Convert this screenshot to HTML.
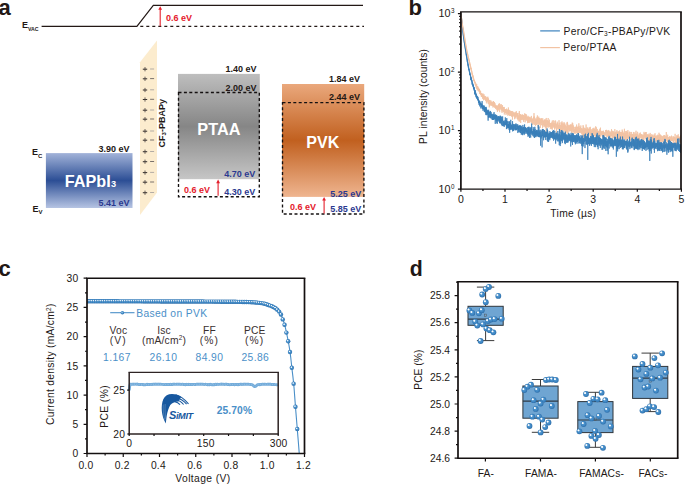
<!DOCTYPE html>
<html><head><meta charset="utf-8"><style>
html,body{margin:0;padding:0;background:#fff;}
svg{display:block;font-family:"Liberation Sans",sans-serif;}
</style></head><body>
<svg width="685" height="484" viewBox="0 0 685 484">
<defs>
<linearGradient id="gBlue" x1="0" y1="0" x2="0" y2="1">
<stop offset="0" stop-color="#a2b3d9"/><stop offset="0.5" stop-color="#2c4e95"/><stop offset="1" stop-color="#b6c4e3"/>
</linearGradient>
<linearGradient id="gGray" x1="0" y1="0" x2="0" y2="1">
<stop offset="0" stop-color="#bebebe"/><stop offset="0.5" stop-color="#868686"/><stop offset="1" stop-color="#c6c6c6"/>
</linearGradient>
<linearGradient id="gOrange" x1="0" y1="0" x2="0" y2="1">
<stop offset="0" stop-color="#eaa87c"/><stop offset="0.5" stop-color="#c1601f"/><stop offset="1" stop-color="#efb590"/>
</linearGradient>
<radialGradient id="gBody" cx="0.45" cy="0.45" r="0.6">
<stop offset="0" stop-color="#5a9dd3"/><stop offset="0.6" stop-color="#3d86c3"/><stop offset="1" stop-color="#2a68a3"/>
</radialGradient>
<radialGradient id="gSpec">
<stop offset="0" stop-color="#ffffff" stop-opacity="1"/><stop offset="0.45" stop-color="#ffffff" stop-opacity="0.85"/><stop offset="1" stop-color="#ffffff" stop-opacity="0"/>
</radialGradient>
<clipPath id="clipB"><rect x="460.9" y="11.9" width="220.1" height="177.2"/></clipPath>
<clipPath id="clipC"><rect x="87" y="278.2" width="217.5" height="175.3"/></clipPath>
</defs>

<text x="-1.5" y="15.3" font-size="22" text-anchor="start" font-weight="bold" fill="#231815" >a</text>
<text x="22" y="28.2" font-size="9" font-weight="bold" fill="#231815">E<tspan font-size="5.2" dy="2.9" letter-spacing="-0.1">VAC</tspan></text>
<path d="M41.6 26.3 H136.9 L153.3 5.4 H363" fill="none" stroke="#231815" stroke-width="1.2"/>
<path d="M140.3 26.3 H364" fill="none" stroke="#231815" stroke-width="1.2" stroke-dasharray="3 3"/>
<path d="M160.2 26.3 V8.7" stroke="#e4202c" stroke-width="1.1" fill="none"/>
<path d="M158.3 9.8 L160.2 6.2 L162.1 9.8 Z" fill="#e4202c"/>
<text x="166" y="21" font-size="9" text-anchor="start" font-weight="bold" fill="#e4202c" >0.6 eV</text>
<polygon points="140,62.3 157,40.4 157,192.5 140,215" fill="#fcecce"/>
<path d="M142.8 69.2 h4.4" stroke="#3a3330" stroke-width="1.05"/><path d="M145 67.1 v4.2" stroke="#4a4340" stroke-width="0.85"/>
<path d="M150.1 69 h4" stroke="#b3aca4" stroke-width="1"/>
<path d="M142.8 78.8 h4.4" stroke="#3a3330" stroke-width="1.05"/><path d="M145 76.7 v4.2" stroke="#4a4340" stroke-width="0.85"/>
<path d="M150.1 78.6 h4" stroke="#7a726c" stroke-width="1"/>
<path d="M142.8 90 h4.4" stroke="#3a3330" stroke-width="1.05"/><path d="M145 87.9 v4.2" stroke="#4a4340" stroke-width="0.85"/>
<path d="M150.1 89.8 h4" stroke="#b3aca4" stroke-width="1"/>
<path d="M142.8 99.5 h4.4" stroke="#3a3330" stroke-width="1.05"/><path d="M145 97.4 v4.2" stroke="#4a4340" stroke-width="0.85"/>
<path d="M150.1 99.3 h4" stroke="#7a726c" stroke-width="1"/>
<path d="M142.8 110.2 h4.4" stroke="#3a3330" stroke-width="1.05"/><path d="M145 108.1 v4.2" stroke="#4a4340" stroke-width="0.85"/>
<path d="M150.1 110 h4" stroke="#b3aca4" stroke-width="1"/>
<path d="M142.8 119.2 h4.4" stroke="#3a3330" stroke-width="1.05"/><path d="M145 117.1 v4.2" stroke="#4a4340" stroke-width="0.85"/>
<path d="M150.1 119 h4" stroke="#7a726c" stroke-width="1"/>
<path d="M142.8 131.2 h4.4" stroke="#3a3330" stroke-width="1.05"/><path d="M145 129.1 v4.2" stroke="#4a4340" stroke-width="0.85"/>
<path d="M150.1 131 h4" stroke="#b3aca4" stroke-width="1"/>
<path d="M142.8 140.2 h4.4" stroke="#3a3330" stroke-width="1.05"/><path d="M145 138.1 v4.2" stroke="#4a4340" stroke-width="0.85"/>
<path d="M150.1 140 h4" stroke="#7a726c" stroke-width="1"/>
<path d="M142.8 151.7 h4.4" stroke="#3a3330" stroke-width="1.05"/><path d="M145 149.6 v4.2" stroke="#4a4340" stroke-width="0.85"/>
<path d="M150.1 151.5 h4" stroke="#b3aca4" stroke-width="1"/>
<path d="M142.8 161.7 h4.4" stroke="#3a3330" stroke-width="1.05"/><path d="M145 159.6 v4.2" stroke="#4a4340" stroke-width="0.85"/>
<path d="M150.1 161.5 h4" stroke="#7a726c" stroke-width="1"/>
<path d="M142.8 172.6 h4.4" stroke="#3a3330" stroke-width="1.05"/><path d="M145 170.5 v4.2" stroke="#4a4340" stroke-width="0.85"/>
<path d="M150.1 172.4 h4" stroke="#b3aca4" stroke-width="1"/>
<path d="M142.8 182.2 h4.4" stroke="#3a3330" stroke-width="1.05"/><path d="M145 180.1 v4.2" stroke="#4a4340" stroke-width="0.85"/>
<path d="M150.1 182 h4" stroke="#7a726c" stroke-width="1"/>
<path d="M142.8 192.7 h4.4" stroke="#3a3330" stroke-width="1.05"/><path d="M145 190.6 v4.2" stroke="#4a4340" stroke-width="0.85"/>
<path d="M150.1 192.5 h4" stroke="#b3aca4" stroke-width="1"/>
<text transform="translate(164.9 147.4) rotate(-90)" font-size="9" font-weight="bold" fill="#231815">CF<tspan font-size="6" dy="1.5">3</tspan><tspan dy="-1.5">-PBAPy</tspan></text>
<rect x="45.9" y="153.1" width="86.6" height="54.9" fill="url(#gBlue)"/>
<text x="64.8" y="187.3" font-size="16.2" font-weight="bold" fill="#fff">FAPbI<tspan font-size="9.2" dx="0.4">3</tspan></text>
<text x="129.5" y="151.9" font-size="9" text-anchor="end" font-weight="bold" fill="#231815" >3.90 eV</text>
<text x="129.5" y="206.2" font-size="9" text-anchor="end" font-weight="bold" fill="#2b3990" >5.41 eV</text>
<text x="31.9" y="155.4" font-size="9" font-weight="bold" fill="#231815">E<tspan font-size="6" dy="2.6">C</tspan></text>
<text x="32.4" y="211.8" font-size="9" font-weight="bold" fill="#231815">E<tspan font-size="6" dy="2.6">V</tspan></text>
<rect x="178" y="73.9" width="81.8" height="105.3" fill="url(#gGray)"/>
<rect x="178.5" y="92.5" width="80.8" height="104.2" fill="none" stroke="#141010" stroke-width="1.35" stroke-dasharray="3 2.4"/>
<text x="256.6" y="72" font-size="9" text-anchor="end" font-weight="bold" fill="#231815" >1.40 eV</text>
<text x="256.6" y="90.7" font-size="9" text-anchor="end" font-weight="bold" fill="#231815" >2.00 eV</text>
<text x="218.9" y="134.8" font-size="16.3" text-anchor="middle" font-weight="bold" fill="#fff" >PTAA</text>
<text x="255.3" y="177.1" font-size="9" text-anchor="end" font-weight="bold" fill="#2b3990" >4.70 eV</text>
<text x="255.3" y="195.3" font-size="9" text-anchor="end" font-weight="bold" fill="#2b3990" >4.30 eV</text>
<text x="184" y="192.6" font-size="9" text-anchor="start" font-weight="bold" fill="#e4202c" >0.6 eV</text>
<path d="M218.1 195.8 V182.1" stroke="#e4202c" stroke-width="1.1" fill="none"/>
<path d="M216.2 183.2 L218.1 179.6 L220 183.2 Z" fill="#e4202c"/>
<rect x="282" y="84" width="82.2" height="112.9" fill="url(#gOrange)"/>
<rect x="282.5" y="102.6" width="81.4" height="111.4" fill="none" stroke="#141010" stroke-width="1.35" stroke-dasharray="3 2.4"/>
<text x="360" y="82.2" font-size="9" text-anchor="end" font-weight="bold" fill="#231815" >1.84 eV</text>
<text x="360" y="100" font-size="9" text-anchor="end" font-weight="bold" fill="#231815" >2.44 eV</text>
<text x="322.8" y="147.5" font-size="16" text-anchor="middle" font-weight="bold" fill="#fff" >PVK</text>
<text x="361.2" y="196.9" font-size="9" text-anchor="end" font-weight="bold" fill="#2b3990" >5.25 eV</text>
<text x="361.2" y="212.4" font-size="9" text-anchor="end" font-weight="bold" fill="#2b3990" >5.85 eV</text>
<text x="290" y="210.3" font-size="9" text-anchor="start" font-weight="bold" fill="#e4202c" >0.6 eV</text>
<path d="M324.1 213.5 V199.5" stroke="#e4202c" stroke-width="1.1" fill="none"/>
<path d="M322.2 200.6 L324.1 197 L326 200.6 Z" fill="#e4202c"/>
<text x="408.6" y="15.2" font-size="22" text-anchor="start" font-weight="bold" fill="#231815" >b</text>
<g clip-path="url(#clipB)">
<polyline points="460.9,13.6 460.98,14.29 461.07,14.98 461.15,15.66 461.24,16.34 461.32,17.01 461.41,17.66 461.49,18.31 461.58,18.95 461.66,19.59 461.75,20.23 461.83,20.85 461.92,21.43 462,22.05 462.09,22.64 462.17,23.25 462.26,23.82 462.34,24.31 462.43,24.86 462.51,25.39 462.6,25.95 462.68,26.47 462.77,26.98 462.85,27.41 462.94,27.99 463.02,28.54 463.1,28.95 463.19,29.45 463.27,29.85 463.36,30.44 463.44,30.85 463.53,31.45 463.61,31.74 463.7,32.53 463.78,32.9 463.87,33.34 463.95,33.86 464.04,34.41 464.12,34.92 464.21,35.51 464.29,36.29 464.38,36.48 464.46,37.02 464.55,37.54 464.63,38.1 464.72,38.62 464.8,39.22 464.89,39.36 464.97,40.31 465.06,40.65 465.14,41.39 465.23,41.81 465.31,42.46 465.39,42.68 465.48,43.11 465.56,44.17 465.65,44.53 465.73,44.96 465.82,45.43 465.9,45.93 465.99,46.91 466.07,46.51 466.16,47.13 466.24,47.94 466.33,48.09 466.41,48.68 466.5,48.87 466.58,50.24 466.67,50.23 466.75,50.48 466.84,50.7 466.92,51.33 467.01,51.61 467.09,52.09 467.18,52.25 467.26,53.01 467.35,53.37 467.43,53.25 467.51,53.94 467.6,54.21 467.68,54.54 467.77,55.6 467.85,55.34 467.94,56.24 468.02,56.05 468.11,56.41 468.19,57.14 468.28,57.05 468.36,57.7 468.45,57.42 468.53,58.63 468.62,58.03 468.7,59.35 468.79,59.2 468.87,60.26 468.96,60.31 469.04,60.3 469.13,61.02 469.21,60.55 469.3,61.86 469.38,62.73 469.47,62.31 469.55,62.63 469.64,63.13 469.72,62.72 469.8,63.11 469.89,64.21 469.97,64.02 470.06,65.07 470.14,64.86 470.23,64.86 470.31,65.47 470.4,67.1 470.48,65.78 470.57,66.77 470.65,67.21 470.74,67.13 470.82,69.02 470.91,67.99 470.99,68.51 471.08,67.97 471.16,69.5 471.25,69.89 471.33,69.64 471.42,70.87 471.5,71.07 471.59,70.65 471.67,71.02 471.76,71.57 471.84,72.07 471.92,72.49 472.01,73.53 472.09,73.84 472.18,73.42 472.26,74.84 472.35,73.9 472.43,75.65 472.52,75.26 472.6,76.56 472.69,75.1 472.77,75.09 472.86,77.05 472.94,75.77 473.03,76.09 473.11,77 473.2,78.57 473.28,78.25 473.37,77.39 473.45,77.45 473.54,77.48 473.62,78.49 473.71,79.55 473.79,80.15 473.88,81.02 473.96,79.92 474.05,80.43 474.13,80.55 474.21,81.07 474.3,80.28 474.38,80.9 474.47,81.37 474.55,81.1 474.64,81.83 474.72,82.91 474.81,82.8 474.89,81.77 474.98,81.82 475.06,83.07 475.15,83.66 475.23,84.73 475.32,84.82 475.4,83.6 475.49,82.67 475.57,83.25 475.66,85.72 475.74,83.98 475.83,84.3 475.91,83.67 476,85.95 476.08,87.53 476.17,87.11 476.25,84.61 476.33,85.76 476.42,85.77 476.5,85.71 476.59,85.48 476.67,84.52 476.76,84.14 476.84,88.84 476.93,86.63 477.01,88.92 477.1,87.17 477.18,87.83 477.27,90.51 477.35,87.7 477.44,86.24 477.52,87.67 477.61,89.03 477.69,87.81 477.78,86.98 477.86,88.89 477.95,86.59 478.03,89.18 478.12,89.77 478.2,89.71 478.29,88.45 478.37,88.59 478.46,89.8 478.54,89.58 478.62,88.51 478.71,90.89 478.79,90.59 478.88,88.5 478.96,88.92 479.05,89.64 479.13,91.42 479.22,91.66 479.3,89.28 479.39,91.58 479.47,89.21 479.56,92.27 479.64,91.89 479.73,92.29 479.81,94.07 479.9,93.34 479.98,93.84 480.07,92.78 480.15,93.11 480.24,93.76 480.32,90.69 480.41,93.84 480.49,94.3 480.58,90.93 480.66,92.21 480.75,93.43 480.83,94.89 480.91,93.25 481,94 481.08,93.63 481.17,95.33 481.25,96.56 481.34,94.81 481.42,93.32 481.51,93.57 481.59,94.02 481.68,97.01 481.76,96.87 481.85,93.52 481.93,95.62 482.02,95.47 482.1,97.07 482.19,95.55 482.27,95.23 482.36,95.78 482.44,94.06 482.53,96.08 482.61,98.54 482.7,98.96 482.78,94.76 482.87,97.36 482.95,93.43 483.03,96.14 483.12,97.97 483.2,96.61 483.29,94.67 483.37,96.11 483.46,100.22 483.54,98.29 483.63,96.22 483.71,98.98 483.8,96.89 483.88,96.41 483.97,98.52 484.05,94.37 484.14,95.94 484.22,99.01 484.31,97.53 484.39,98.95 484.48,96.51 484.56,98.95 484.65,97.39 484.73,97.53 484.82,96.92 484.9,96.41 484.99,100.06 485.07,97.05 485.15,98.13 485.24,99.87 485.32,98.64 485.41,99.91 485.49,100.71 485.58,97.88 485.66,95.99 485.75,98.37 485.83,97.8 485.92,98.71 486,98.65 486.09,99.68 486.17,100.68 486.26,98.7 486.34,102.44 486.43,98.29 486.51,99.71 486.6,98.42 486.68,97.73 486.77,97.29 486.85,98.98 486.94,103.52 487.02,99.18 487.11,100.36 487.19,97.23 487.28,98.22 487.36,98.97 487.44,100.01 487.53,100.48 487.61,100.05 487.7,100.54 487.78,99.42 487.87,96.69 487.95,101.38 488.04,101.73 488.12,98.99 488.21,101.99 488.29,98.2 488.38,102.53 488.46,99.27 488.55,101.63 488.63,104.16 488.72,100.24 488.8,102.39 488.89,101.4 488.97,103.64 489.06,102.29 489.14,104.13 489.23,102.95 489.31,107.37 489.4,101.58 489.48,101.22 489.56,101.58 489.65,99.94 489.73,104.68 489.82,102.62 489.9,103.98 489.99,105.87 490.07,100.23 490.16,102.19 490.24,102.34 490.33,101.93 490.41,102.6 490.5,101.76 490.58,102.92 490.67,104.65 490.75,103.78 490.84,102.69 490.92,105.22 491.01,100.59 491.09,104.03 491.18,103.64 491.26,101.89 491.35,102.58 491.43,105.35 491.52,105.21 491.6,104.97 491.69,101.9 491.77,102.67 491.85,105.77 491.94,105.71 492.02,104.42 492.11,105.11 492.19,102.51 492.28,104.29 492.36,105.92 492.45,103.9 492.53,102.79 492.62,104.98 492.7,104.11 492.79,102.02 492.87,105.63 492.96,107.5 493.04,107.11 493.13,101.24 493.21,105.87 493.3,104.51 493.38,106.51 493.47,105.89 493.55,101.14 493.64,105.21 493.72,106.4 493.81,102.38 493.89,104.42 493.97,106.72 494.06,102.92 494.14,104.13 494.23,104.45 494.31,103.73 494.4,103.06 494.48,102.04 494.57,105.95 494.65,106.27 494.74,103.86 494.82,107.76 494.91,103.15 494.99,103.42 495.08,107.81 495.16,105.76 495.25,106.12 495.33,106.94 495.42,106.22 495.5,105.8 495.59,107.97 495.67,105.68 495.76,109.06 495.84,105.59 495.93,107 496.01,106.53 496.1,105.79 496.18,108.09 496.26,108.63 496.35,105.47 496.43,106.09 496.52,107.8 496.6,106.14 496.69,108.67 496.77,108.98 496.86,109.06 496.94,109.69 497.03,108.87 497.11,110.32 497.2,108.75 497.28,105.94 497.37,109.22 497.45,112.01 497.54,108.28 497.62,105.67 497.71,106.27 497.79,107.54 497.88,110.2 497.96,105.6 498.05,107.75 498.13,107.75 498.22,108.91 498.3,107.45 498.38,105.54 498.47,106.1 498.55,104.2 498.64,110.43 498.72,106.82 498.81,108.36 498.89,108.43 498.98,106.66 499.06,108.68 499.15,106.43 499.23,108.07 499.32,103.22 499.4,107.93 499.49,107.52 499.57,106.94 499.66,112.18 499.74,103.96 499.83,108.6 499.91,106.43 500,107.24 500.08,108.14 500.17,107.65 500.25,109.22 500.34,109.24 500.42,109.48 500.51,108.23 500.59,107.77 500.67,104.56 500.76,107.53 500.84,107.55 500.93,107.88 501.01,108.34 501.1,108.33 501.18,108.5 501.27,109.51 501.35,104.25 501.44,109.33 501.52,107.34 501.61,109.95 501.69,107.75 501.78,109.2 501.86,111.26 501.95,110.34 502.03,112.84 502.12,110.32 502.2,106.48 502.29,111.1 502.37,109.15 502.46,110.68 502.54,105.15 502.63,108.24 502.71,109.68 502.79,109.75 502.88,107.27 502.96,110.18 503.05,108.21 503.13,108.89 503.22,111.44 503.3,111.14 503.39,110.95 503.47,108.75 503.56,107.04 503.64,111.77 503.73,109.01 503.81,110.67 503.9,110.69 503.98,112.18 504.07,108.65 504.15,111.04 504.24,106.93 504.32,114.47 504.41,111.26 504.49,111.26 504.58,110.73 504.66,111.51 504.75,109.21 504.83,111.17 504.92,109.57 505,112.33 505.08,112.08 505.17,109.96 505.25,113.01 505.34,109.32 505.42,110.48 505.51,110.28 505.59,110.86 505.68,110.8 505.76,109.19 505.85,111.04 505.93,111.77 506.02,114.96 506.1,114.16 506.19,110.62 506.27,113.16 506.36,110.26 506.44,110.48 506.53,108.61 506.61,110.74 506.7,111.28 506.78,112.91 506.87,113.88 506.95,112.12 507.04,112.78 507.12,111.73 507.2,110.37 507.29,111.13 507.37,111.93 507.46,112.1 507.54,109.52 507.63,114.41 507.71,115.64 507.8,114.26 507.88,112.94 507.97,110.36 508.05,113.36 508.14,112.27 508.22,110.47 508.31,113.71 508.39,107.48 508.48,112.19 508.56,111.2 508.65,115.26 508.73,113.27 508.82,109.7 508.9,114.8 508.99,111.03 509.07,112.18 509.16,112.05 509.24,113.92 509.33,110 509.41,110.23 509.49,112.88 509.58,112.64 509.66,111.05 509.75,116.03 509.83,114.12 509.92,112.51 510,113.88 510.09,114.93 510.17,115.63 510.26,112.54 510.34,112.83 510.43,110.73 510.51,113.49 510.6,115.42 510.68,114.98 510.77,115.07 510.85,112.25 510.94,115.36 511.02,111.4 511.11,115.45 511.19,112.04 511.28,113.96 511.36,112.54 511.45,111.17 511.53,114.69 511.61,114.39 511.7,116.31 511.78,113.68 511.87,116.54 511.95,113.96 512.04,111.43 512.12,112.36 512.21,111.1 512.29,116.68 512.38,112.61 512.46,119.67 512.55,117.1 512.63,116.78 512.72,114.04 512.8,116.14 512.89,115.15 512.97,115.76 513.06,111.72 513.14,113.88 513.23,112.71 513.31,112.53 513.4,113.88 513.48,114.22 513.57,113.92 513.65,113.15 513.74,116.45 513.82,115.06 513.9,113.17 513.99,112.77 514.07,115.58 514.16,113.71 514.24,115.22 514.33,114.54 514.41,113.7 514.5,115.46 514.58,119.2 514.67,115.09 514.75,116.5 514.84,116.67 514.92,112.28 515.01,115.49 515.09,112.95 515.18,115.35 515.26,117.59 515.35,114.83 515.43,116.77 515.52,115.85 515.6,115.03 515.69,114.66 515.77,112.3 515.86,113.7 515.94,118.1 516.02,118.59 516.11,116.72 516.19,112.66 516.28,111.07 516.36,115.77 516.45,116.82 516.53,116.66 516.62,116.47 516.7,116.42 516.79,112.86 516.87,114.15 516.96,113.2 517.04,116.02 517.13,114.35 517.21,115.95 517.3,113.68 517.38,115.54 517.47,113.22 517.55,113.98 517.64,118.85 517.72,115.15 517.81,119.54 517.89,115.15 517.98,116.98 518.06,115.8 518.15,118.83 518.23,120.59 518.31,116.03 518.4,117.76 518.48,117.04 518.57,118.1 518.65,119.19 518.74,116.72 518.82,115.83 518.91,112.85 518.99,113.89 519.08,117.53 519.16,116.21 519.25,121.69 519.33,111 519.42,118.16 519.5,116.51 519.59,114.81 519.67,117.79 519.76,120.66 519.84,117.57 519.93,118.35 520.01,117.22 520.1,115.88 520.18,116.33 520.27,117.07 520.35,114.1 520.43,115.33 520.52,119.83 520.6,117.18 520.69,122.96 520.77,114.35 520.86,115.86 520.94,117.76 521.03,119.65 521.11,117.57 521.2,117.49 521.28,117.34 521.37,114.98 521.45,119.22 521.54,119.99 521.62,116.79 521.71,115.6 521.79,119.76 521.88,118.8 521.96,116.38 522.05,116.71 522.13,115.52 522.22,119.22 522.3,114.33 522.39,116.71 522.47,117.8 522.56,119.17 522.64,116.69 522.72,115.01 522.81,114.9 522.89,115.57 522.98,119.85 523.06,117.75 523.15,119.69 523.23,120.31 523.32,114.95 523.4,120.11 523.49,115.54 523.57,115.16 523.66,121.95 523.74,120.65 523.83,116.1 523.91,119.14 524,116.92 524.08,119.85 524.17,117.95 524.25,116.32 524.34,118.6 524.42,118.23 524.51,117.23 524.59,117.25 524.68,113.37 524.76,119.01 524.85,116.66 524.93,120.11 525.01,118.97 525.1,115.72 525.18,122.33 525.27,116.86 525.35,117.62 525.44,113.93 525.52,119.22 525.61,116.74 525.69,116.92 525.78,118.56 525.86,116.73 525.95,116.86 526.03,119.29 526.12,116.81 526.2,119.74 526.29,119.83 526.37,119.41 526.46,114.42 526.54,117.94 526.63,119.09 526.71,117.73 526.8,120.21 526.88,117.64 526.97,118.29 527.05,120.9 527.13,117.81 527.22,117.88 527.3,120.63 527.39,117.11 527.47,123.13 527.56,121.12 527.64,119.52 527.73,122.13 527.81,118.33 527.9,115.77 527.98,116.18 528.07,119.02 528.15,118.14 528.24,116.59 528.32,122.56 528.41,119.77 528.49,118.38 528.58,119.23 528.66,122.84 528.75,117.26 528.83,121.02 528.92,118.43 529,118.71 529.09,119.48 529.17,119.67 529.25,116.81 529.34,118.69 529.42,120.28 529.51,122.66 529.59,119.46 529.68,119.71 529.76,117.94 529.85,119.69 529.93,118.12 530.02,121.34 530.1,117.24 530.19,116.91 530.27,119.82 530.36,118.03 530.44,121.51 530.53,118.79 530.61,120.4 530.7,117.88 530.78,119.89 530.87,118.88 530.95,121.49 531.04,120.93 531.12,119.54 531.21,118.81 531.29,123.19 531.38,115.93 531.46,121.38 531.54,122.3 531.63,122.33 531.71,120.26 531.8,119.53 531.88,121.7 531.97,122.27 532.05,119.77 532.14,120.1 532.22,118.9 532.31,118.72 532.39,120.08 532.48,122.76 532.56,119.35 532.65,124.82 532.73,122.48 532.82,119.27 532.9,120.97 532.99,118.61 533.07,124.52 533.16,120.19 533.24,117.8 533.33,119.25 533.41,120.5 533.5,120.17 533.58,116.9 533.66,118.08 533.75,121.19 533.83,123.43 533.92,119.5 534,113.14 534.09,120.51 534.17,116.25 534.26,119.22 534.34,118.76 534.43,116.97 534.51,122.63 534.6,125.02 534.68,124.66 534.77,119.74 534.85,119.78 534.94,120.84 535.02,122.96 535.11,122.43 535.19,124.7 535.28,122.41 535.36,119.18 535.45,121.21 535.53,125.91 535.62,124.56 535.7,121.14 535.79,122.84 535.87,118.63 535.95,117.87 536.04,121.05 536.12,123.31 536.21,122.15 536.29,124.91 536.38,123.43 536.46,119.23 536.55,124.85 536.63,122.37 536.72,120.29 536.8,121.12 536.89,124.14 536.97,122.85 537.06,116.82 537.14,123.52 537.23,122.24 537.31,122.74 537.4,115.42 537.48,121.68 537.57,120.02 537.65,122.35 537.74,122.74 537.82,123.57 537.91,119.43 537.99,121.49 538.07,127.87 538.16,118.56 538.24,122.71 538.33,117.79 538.41,120.9 538.5,122.83 538.58,118.85 538.67,121.98 538.75,116.62 538.84,121.7 538.92,123.98 539.01,119.45 539.09,124.77 539.18,121.71 539.26,122.19 539.35,119.73 539.43,121.07 539.52,123.54 539.6,118.2 539.69,122.7 539.77,121.47 539.86,122.09 539.94,118.21 540.03,120.17 540.11,124.39 540.2,120.75 540.28,124.73 540.36,127.93 540.45,119.41 540.53,120.67 540.62,121.78 540.7,120.92 540.79,119.79 540.87,122.61 540.96,121.23 541.04,118.5 541.13,118.96 541.21,121.34 541.3,121.62 541.38,123.67 541.47,125.15 541.55,118.64 541.64,122.16 541.72,119.23 541.81,118.26 541.89,120.81 541.98,123.03 542.06,121.86 542.15,121.48 542.23,122.4 542.32,119.93 542.4,126 542.49,123.57 542.57,128.29 542.65,121.76 542.74,118.34 542.82,118.57 542.91,121.46 542.99,123.76 543.08,122.9 543.16,121.62 543.25,122.11 543.33,125.05 543.42,122.62 543.5,120.51 543.59,122.38 543.67,123.15 543.76,121.17 543.84,126.76 543.93,123.57 544.01,124.78 544.1,120.73 544.18,125.06 544.27,123.39 544.35,123.68 544.44,119.56 544.52,126.14 544.61,126.42 544.69,124.44 544.77,122 544.86,122.11 544.94,119.6 545.03,126.31 545.11,124.17 545.2,123.86 545.28,124.75 545.37,127.79 545.45,119.55 545.54,127.12 545.62,123.99 545.71,126.39 545.79,123.73 545.88,119.97 545.96,125.65 546.05,124.39 546.13,132.45 546.22,117.94 546.3,124.36 546.39,126.5 546.47,129.74 546.56,126.12 546.64,124.79 546.73,120.16 546.81,122.94 546.89,124.29 546.98,123.82 547.06,121.1 547.15,121.79 547.23,126.83 547.32,121.98 547.4,122.33 547.49,124.91 547.57,120.17 547.66,123.6 547.74,124.72 547.83,121.29 547.91,123.17 548,127.69 548.08,120.12 548.17,118.01 548.25,123.77 548.34,122.38 548.42,120.73 548.51,124.97 548.59,125.97 548.68,123.17 548.76,127.23 548.85,126.23 548.93,126.71 549.02,124.1 549.1,125.72 549.18,122.42 549.27,123.77 549.35,122.92 549.44,127.02 549.52,119.68 549.61,124.03 549.69,123.25 549.78,125.05 549.86,124.25 549.95,125.37 550.03,123.23 550.12,125.73 550.2,126.67 550.29,125.17 550.37,129.02 550.46,123.73 550.54,123.4 550.63,126.22 550.71,125.96 550.8,123 550.88,126.53 550.97,123.79 551.05,123.7 551.14,125.47 551.22,127.34 551.3,124.97 551.39,122.49 551.47,129.16 551.56,123.34 551.64,125.52 551.73,123.22 551.81,127.39 551.9,123.56 551.98,122.98 552.07,124.75 552.15,125.73 552.24,120.7 552.32,124.56 552.41,129.69 552.49,123.45 552.58,124.44 552.66,127.4 552.75,122.62 552.83,127.8 552.92,127.34 553,126.26 553.09,123.34 553.17,120.14 553.26,122.27 553.34,125.47 553.43,123.83 553.51,123.4 553.59,123.42 553.68,126.18 553.76,126.3 553.85,124.74 553.93,127.11 554.02,123.03 554.1,127.41 554.19,120.74 554.27,123.4 554.36,127.69 554.44,125.91 554.53,129.61 554.61,123.6 554.7,126.86 554.78,125.89 554.87,126.25 554.95,129.07 555.04,128.15 555.12,128.03 555.21,128 555.29,127.46 555.38,123.55 555.46,125.68 555.55,120.46 555.63,124.47 555.71,124.99 555.8,127.77 555.88,124.33 555.97,125.45 556.05,127.36 556.14,125.76 556.22,123.51 556.31,125.7 556.39,128.89 556.48,133.06 556.56,124.3 556.65,127.93 556.73,130.03 556.82,128.12 556.9,124.84 556.99,127.42 557.07,126.68 557.16,127.03 557.24,121.66 557.33,126.04 557.41,125.16 557.5,122.77 557.58,127.2 557.67,125.32 557.75,128.74 557.84,125.84 557.92,124.93 558,128.13 558.09,129.24 558.17,125.13 558.26,127.58 558.34,126.13 558.43,127.02 558.51,124.9 558.6,127.91 558.68,124.89 558.77,129.36 558.85,126.3 558.94,128.53 559.02,120.18 559.11,126.98 559.19,128.31 559.28,122.85 559.36,128.56 559.45,129.63 559.53,127.55 559.62,125.14 559.7,127.95 559.79,128.25 559.87,127.59 559.96,127.56 560.04,129.12 560.12,126.04 560.21,127.63 560.29,126.76 560.38,125.02 560.46,126.89 560.55,127.56 560.63,130.13 560.72,125.17 560.8,132.35 560.89,126.79 560.97,122.27 561.06,125.35 561.14,128.52 561.23,127.1 561.31,131.03 561.4,128.37 561.48,128.03 561.57,123.08 561.65,128.68 561.74,122.8 561.82,126.58 561.91,132.41 561.99,121.39 562.08,129.38 562.16,125.22 562.25,127.67 562.33,126.26 562.41,129.64 562.5,129.03 562.58,129.93 562.67,125.45 562.75,126.01 562.84,123.92 562.92,129.39 563.01,122.69 563.09,128.47 563.18,128.04 563.26,130.94 563.35,125.97 563.43,127.57 563.52,124.05 563.6,125.33 563.69,125.94 563.77,126.35 563.86,127.52 563.94,124.23 564.03,128.64 564.11,122.2 564.2,127.19 564.28,130.47 564.37,125.1 564.45,127.31 564.53,123.58 564.62,129.21 564.7,124.98 564.79,125.54 564.87,130.19 564.96,123.62 565.04,138.25 565.13,125.42 565.21,127.91 565.3,130.23 565.38,136.09 565.47,133.63 565.55,125.52 565.64,130.28 565.72,128.14 565.81,132.91 565.89,127.73 565.98,131.88 566.06,130.86 566.15,128.26 566.23,131.52 566.32,128.34 566.4,126.24 566.49,130.25 566.57,129.23 566.66,130.33 566.74,126.68 566.82,125.5 566.91,122.46 566.99,131.04 567.08,127.73 567.16,132.65 567.25,129.25 567.33,133.74 567.42,121.9 567.5,126.76 567.59,123.14 567.67,130.45 567.76,129.42 567.84,126.98 567.93,129.64 568.01,128.27 568.1,128.15 568.18,132.68 568.27,125.66 568.35,126.39 568.44,125.74 568.52,126.59 568.61,129.16 568.69,127.36 568.78,127.65 568.86,129.81 568.94,124.89 569.03,124.71 569.11,127.3 569.2,125.37 569.28,131.48 569.37,129.31 569.45,128.56 569.54,129.63 569.62,126.02 569.71,127.63 569.79,130.86 569.88,127.9 569.96,127.04 570.05,125.37 570.13,126.92 570.22,125.77 570.3,127.96 570.39,131.26 570.47,125.08 570.56,127.44 570.64,130.05 570.73,124.83 570.81,128.63 570.9,124.12 570.98,129.88 571.07,129.01 571.15,124.64 571.23,128.92 571.32,125.02 571.4,131.87 571.49,129 571.57,132.72 571.66,132.86 571.74,131.81 571.83,128.81 571.91,127.85 572,126.04 572.08,131.18 572.17,128.01 572.25,122.6 572.34,129.29 572.42,127.85 572.51,129.1 572.59,126.12 572.68,129.51 572.76,123.34 572.85,133.75 572.93,130.7 573.02,129.72 573.1,127.58 573.19,127.09 573.27,125.29 573.36,131.67 573.44,131.74 573.52,128.07 573.61,131.93 573.69,129.23 573.78,126.63 573.86,128.98 573.95,129.92 574.03,129.95 574.12,127.01 574.2,127.54 574.29,128.93 574.37,133.64 574.46,129.02 574.54,132.29 574.63,129.39 574.71,132.75 574.8,129.82 574.88,131.73 574.97,132.1 575.05,130.2 575.14,129.82 575.22,130.28 575.31,130.83 575.39,133.64 575.48,127.07 575.56,130.74 575.64,128.27 575.73,130.65 575.81,129.17 575.9,127.46 575.98,131.9 576.07,126.38 576.15,131.93 576.24,126.93 576.32,130.69 576.41,128.56 576.49,131.54 576.58,126.71 576.66,124.52 576.75,133.22 576.83,129.28 576.92,130.82 577,129.46 577.09,129.03 577.17,133.17 577.26,131.77 577.34,126.77 577.43,133.72 577.51,128.52 577.6,127.42 577.68,131.2 577.76,132.65 577.85,133.4 577.93,129.7 578.02,126.6 578.1,132.13 578.19,130.86 578.27,131.62 578.36,130.58 578.44,133.63 578.53,127.01 578.61,128.41 578.7,129.36 578.78,130.46 578.87,123.26 578.95,131.43 579.04,126.77 579.12,125.86 579.21,129.17 579.29,132.02 579.38,131.15 579.46,127.82 579.55,132.81 579.63,131.13 579.72,132.64 579.8,128.61 579.89,128.91 579.97,129.15 580.05,128.24 580.14,132.67 580.22,129.26 580.31,131.88 580.39,129.73 580.48,127.03 580.56,130.48 580.65,131.95 580.73,128.44 580.82,125.48 580.9,132.88 580.99,130.78 581.07,128.67 581.16,130.74 581.24,133.28 581.33,131 581.41,130.42 581.5,128.41 581.58,130.06 581.67,128.59 581.75,129.21 581.84,133.6 581.92,131.23 582.01,130.95 582.09,134.04 582.17,129.38 582.26,137.12 582.34,130.55 582.43,130.35 582.51,130.41 582.6,128.5 582.68,131.77 582.77,130.56 582.85,131.58 582.94,136.27 583.02,130.25 583.11,125.12 583.19,130.39 583.28,131.84 583.36,134.1 583.45,126.48 583.53,130.01 583.62,140.17 583.7,130.86 583.79,137.15 583.87,133.67 583.96,129.54 584.04,132.01 584.13,132.76 584.21,135.05 584.3,127.72 584.38,130.1 584.46,129.15 584.55,130.18 584.63,132.98 584.72,135.38 584.8,129.27 584.89,132.97 584.97,129.84 585.06,128.05 585.14,131.95 585.23,128.9 585.31,133.43 585.4,134.56 585.48,130.29 585.57,134.09 585.65,128.89 585.74,130.13 585.82,129.27 585.91,130.85 585.99,130.12 586.08,124.53 586.16,128.36 586.25,130.75 586.33,132.52 586.42,133.66 586.5,131.09 586.59,129.42 586.67,132.29 586.75,138.97 586.84,133.22 586.92,130.96 587.01,127.29 587.09,127.5 587.18,131.5 587.26,128.76 587.35,131.77 587.43,130.52 587.52,132.52 587.6,127.72 587.69,127.97 587.77,133.17 587.86,129.31 587.94,135.39 588.03,128.97 588.11,131.36 588.2,132.81 588.28,133.28 588.37,129 588.45,132.52 588.54,129.51 588.62,128.98 588.71,131.34 588.79,134.59 588.87,128.97 588.96,131.23 589.04,132.38 589.13,127.5 589.21,130.81 589.3,132.37 589.38,133.2 589.47,131.44 589.55,131.24 589.64,131.7 589.72,127.49 589.81,127.69 589.89,131.01 589.98,131.56 590.06,136.73 590.15,129.5 590.23,133.51 590.32,126.83 590.4,130.85 590.49,132.64 590.57,132.93 590.66,132.7 590.74,134.48 590.83,132.17 590.91,132.37 591,132.91 591.08,138.13 591.16,132.27 591.25,133.63 591.33,134.6 591.42,131.54 591.5,134.6 591.59,131.16 591.67,132.23 591.76,129.26 591.84,130.55 591.93,137.68 592.01,133.68 592.1,130.06 592.18,129.83 592.27,132.68 592.35,129.79 592.44,131.92 592.52,132.25 592.61,136.17 592.69,130.65 592.78,133.11 592.86,130.68 592.95,128.99 593.03,128.1 593.12,132.66 593.2,128.67 593.28,130.26 593.37,132.64 593.45,137.41 593.54,130.92 593.62,129.33 593.71,133.62 593.79,134.26 593.88,132.65 593.96,134.53 594.05,127.71 594.13,136.1 594.22,130.2 594.3,132.27 594.39,129.39 594.47,131.82 594.56,132.26 594.64,132.16 594.73,129.07 594.81,135.15 594.9,134.75 594.98,131.51 595.07,134.22 595.15,130.72 595.24,133.31 595.32,130.68 595.4,130.6 595.49,137.19 595.57,129.85 595.66,126.31 595.74,131 595.83,131.25 595.91,137.23 596,131.22 596.08,136.19 596.17,134.69 596.25,135.01 596.34,127.26 596.42,129.03 596.51,128.7 596.59,136.13 596.68,130.6 596.76,133.96 596.85,133.65 596.93,133.41 597.02,136.03 597.1,130.73 597.19,135.75 597.27,128.97 597.36,132.97 597.44,135.54 597.53,134.26 597.61,134.38 597.69,131.13 597.78,131.45 597.86,134.2 597.95,137.02 598.03,131.34 598.12,134.81 598.2,137.28 598.29,132.98 598.37,131.07 598.46,134.33 598.54,133.73 598.63,134.13 598.71,131.87 598.8,133.95 598.88,130.68 598.97,136.91 599.05,130.86 599.14,133.04 599.22,135.6 599.31,131.82 599.39,134.1 599.48,133.64 599.56,132.03 599.65,134.08 599.73,135.64 599.81,128.78 599.9,136.41 599.98,131.31 600.07,134.54 600.15,130.38 600.24,135.49 600.32,129.62 600.41,132.41 600.49,127.67 600.58,136.64 600.66,132.31 600.75,135.93 600.83,130.69 600.92,133.04 601,133.13 601.09,131.98 601.17,134.96 601.26,132.59 601.34,133.54 601.43,133.91 601.51,134.11 601.6,131.22 601.68,132.32 601.77,131.79 601.85,133.08 601.94,135.09 602.02,134.16 602.1,134.09 602.19,132.04 602.27,134 602.36,136.81 602.44,135.62 602.53,131.52 602.61,137.37 602.7,132.59 602.78,136.46 602.87,130.97 602.95,134.21 603.04,133.52 603.12,141.77 603.21,134.32 603.29,130.7 603.38,131.45 603.46,133.87 603.55,132.58 603.63,138.77 603.72,136.68 603.8,134.33 603.89,131.77 603.97,135.25 604.06,134.99 604.14,136.36 604.23,138.09 604.31,134.48 604.39,134.81 604.48,132.77 604.56,132.53 604.65,133.57 604.73,133.42 604.82,134.81 604.9,133.31 604.99,133.83 605.07,134.39 605.16,134.73 605.24,132.47 605.33,135.31 605.41,134.29 605.5,133.47 605.58,130.19 605.67,130.75 605.75,130.23 605.84,131.94 605.92,134.67 606.01,135.01 606.09,136.18 606.18,130.35 606.26,130.55 606.35,132.8 606.43,129.83 606.51,132.49 606.6,130.31 606.68,136.39 606.77,136.96 606.85,136.88 606.94,137.26 607.02,130.22 607.11,130.85 607.19,133.05 607.28,131.41 607.36,133.62 607.45,132.09 607.53,136.73 607.62,131.74 607.7,136.23 607.79,133.48 607.87,132.07 607.96,134.59 608.04,133.21 608.13,136 608.21,133.59 608.3,130.93 608.38,135.09 608.47,135.98 608.55,133.54 608.63,133.28 608.72,129.97 608.8,135.7 608.89,132.01 608.97,135.05 609.06,132.38 609.14,133.75 609.23,132.45 609.31,136.07 609.4,143.25 609.48,134.46 609.57,140.32 609.65,135.57 609.74,134.96 609.82,131.01 609.91,136.77 609.99,135.89 610.08,134.78 610.16,136.17 610.25,132.95 610.33,133.27 610.42,135.12 610.5,136.19 610.59,132.46 610.67,135.41 610.76,133.32 610.84,136.61 610.92,145.28 611.01,131.82 611.09,132.11 611.18,134.51 611.26,132.76 611.35,136.21 611.43,133.81 611.52,129.12 611.6,131.17 611.69,130.58 611.77,135.05 611.86,133.75 611.94,132.92 612.03,136.08 612.11,130.93 612.2,134.72 612.28,135.94 612.37,134.44 612.45,139.66 612.54,134.46 612.62,133.75 612.71,137.87 612.79,130.91 612.88,133.56 612.96,135.45 613.04,137.59 613.13,135.81 613.21,132.96 613.3,132.3 613.38,134.78 613.47,131.46 613.55,134.02 613.64,137.83 613.72,133.13 613.81,137.34 613.89,134.13 613.98,132.38 614.06,134.27 614.15,134.34 614.23,137.84 614.32,132.53 614.4,133.68 614.49,134.12 614.57,134.96 614.66,133.77 614.74,137.52 614.83,129.11 614.91,133.65 615,136.83 615.08,137.59 615.17,138.53 615.25,139.97 615.33,133.53 615.42,132.83 615.5,131.93 615.59,136.49 615.67,133.77 615.76,132.96 615.84,136.67 615.93,138.41 616.01,134.56 616.1,131.59 616.18,135.01 616.27,134.27 616.35,134.62 616.44,133.73 616.52,133.27 616.61,132.04 616.69,131.66 616.78,142.54 616.86,135.3 616.95,130.07 617.03,134.45 617.12,133.65 617.2,131.94 617.29,134.12 617.37,134.49 617.45,139.65 617.54,134.26 617.62,138.69 617.71,136.83 617.79,131.64 617.88,135.07 617.96,133.98 618.05,133.58 618.13,138.5 618.22,132.69 618.3,137.27 618.39,133.45 618.47,133.9 618.56,139.17 618.64,138.95 618.73,131.27 618.81,134.65 618.9,136.86 618.98,132.17 619.07,138.91 619.15,133.16 619.24,138.58 619.32,134.97 619.41,132.42 619.49,136.05 619.58,135.95 619.66,130.45 619.74,134.68 619.83,136.42 619.91,134 620,135.47 620.08,135.51 620.17,132 620.25,138.41 620.34,135.35 620.42,134.27 620.51,136.67 620.59,133.67 620.68,138.18 620.76,132.09 620.85,134.77 620.93,136.04 621.02,137.44 621.1,134.65 621.19,138.01 621.27,132.03 621.36,139.47 621.44,133 621.53,134.15 621.61,133.2 621.7,135.18 621.78,138.13 621.87,137.9 621.95,133.25 622.03,132.19 622.12,134.42 622.2,129.55 622.29,139.74 622.37,135.23 622.46,130.99 622.54,136.93 622.63,136.19 622.71,137.06 622.8,133.04 622.88,131.59 622.97,134.01 623.05,136.38 623.14,138.15 623.22,135.68 623.31,132.66 623.39,137.58 623.48,135.02 623.56,133.28 623.65,136.37 623.73,138.94 623.82,134.59 623.9,135.39 623.99,133.81 624.07,133.82 624.15,137.79 624.24,133.35 624.32,135.4 624.41,128.78 624.49,137.51 624.58,134.53 624.66,137.68 624.75,134.75 624.83,135.36 624.92,138.23 625,134.4 625.09,135.89 625.17,139.57 625.26,136.66 625.34,133.24 625.43,138.29 625.51,136.77 625.6,140.25 625.68,131.19 625.77,131.67 625.85,134.7 625.94,134.06 626.02,135.61 626.11,137.68 626.19,135.37 626.27,130.92 626.36,136.96 626.44,137.72 626.53,135.24 626.61,136.87 626.7,131.67 626.78,140.51 626.87,134.72 626.95,133.32 627.04,139.11 627.12,133.22 627.21,134.2 627.29,132.39 627.38,138.44 627.46,137.03 627.55,135.82 627.63,138.11 627.72,131.78 627.8,133.48 627.89,130.06 627.97,139.31 628.06,137.48 628.14,136.05 628.23,137.24 628.31,135.6 628.4,135.03 628.48,137.37 628.56,137.05 628.65,135.6 628.73,136.1 628.82,138.68 628.9,137.35 628.99,133.46 629.07,134.21 629.16,138.26 629.24,135.55 629.33,132.69 629.41,134.36 629.5,136.13 629.58,131.63 629.67,141.66 629.75,136.16 629.84,137.61 629.92,135.86 630.01,134.92 630.09,134.56 630.18,140.76 630.26,139.08 630.35,135.69 630.43,137.5 630.52,138.26 630.6,134.57 630.68,135.97 630.77,133.81 630.85,137.43 630.94,137.02 631.02,131.98 631.11,133.54 631.19,131.96 631.28,135.88 631.36,138.85 631.45,136.18 631.53,137.76 631.62,137.12 631.7,136.77 631.79,133.98 631.87,139.67 631.96,137.66 632.04,133.86 632.13,137.45 632.21,134.57 632.3,134.1 632.38,134.4 632.47,136.45 632.55,134.16 632.64,138.81 632.72,136.65 632.81,135.39 632.89,137.54 632.97,138.54 633.06,139.35 633.14,134.45 633.23,140.76 633.31,136.18 633.4,131.96 633.48,133.92 633.57,138.54 633.65,136.55 633.74,136.44 633.82,137.9 633.91,136.88 633.99,134.69 634.08,136.52 634.16,135.11 634.25,134.51 634.33,138.98 634.42,135.61 634.5,135.82 634.59,135.68 634.67,136.24 634.76,136.55 634.84,132.27 634.93,137.7 635.01,138.48 635.1,137.07 635.18,138.24 635.26,135.39 635.35,133.87 635.43,136.37 635.52,135.27 635.6,137.27 635.69,134.56 635.77,138.07 635.86,135.65 635.94,137.84 636.03,130.71 636.11,140.54 636.2,135.92 636.28,137.36 636.37,135.94 636.45,135.87 636.54,138.26 636.62,140.3 636.71,133.58 636.79,140.71 636.88,134.3 636.96,137.65 637.05,137.06 637.13,136.38 637.22,140.08 637.3,135.41 637.38,137.75 637.47,136.66 637.55,133.38 637.64,131.82 637.72,133.87 637.81,139.24 637.89,137.14 637.98,138.82 638.06,136.78 638.15,136.98 638.23,145.71 638.32,136.3 638.4,135.83 638.49,136.07 638.57,140.82 638.66,137.15 638.74,136.41 638.83,141.38 638.91,135.45 639,140.19 639.08,133.5 639.17,142.06 639.25,134.99 639.34,138.01 639.42,136.51 639.5,138.49 639.59,138.03 639.67,139.9 639.76,133.49 639.84,135.75 639.93,135.82 640.01,134.62 640.1,138.3 640.18,136.65 640.27,132.5 640.35,134.37 640.44,134.8 640.52,134.71 640.61,133.98 640.69,137.76 640.78,137.33 640.86,134.52 640.95,135.56 641.03,136.94 641.12,134.11 641.2,137.59 641.29,134.68 641.37,136.63 641.46,138.1 641.54,136.61 641.63,135.44 641.71,140.74 641.79,143 641.88,136.68 641.96,134.11 642.05,137.44 642.13,136.53 642.22,136.16 642.3,134.99 642.39,140.49 642.47,137.66 642.56,135.33 642.64,137.15 642.73,135.52 642.81,137.76 642.9,142.21 642.98,140.13 643.07,135.67 643.15,135.99 643.24,140.02 643.32,135.58 643.41,138.08 643.49,135.48 643.58,135.93 643.66,135.2 643.75,136.63 643.83,136.82 643.91,141.11 644,131.85 644.08,135.75 644.17,137.27 644.25,133.66 644.34,136.37 644.42,134.19 644.51,136.32 644.59,137.26 644.68,133.41 644.76,137.12 644.85,135.64 644.93,134.58 645.02,132.88 645.1,135.49 645.19,138.6 645.27,136.82 645.36,137.49 645.44,132.12 645.53,136.01 645.61,137.3 645.7,137.04 645.78,134.78 645.87,139.33 645.95,135.99 646.04,134.79 646.12,135.81 646.2,137.81 646.29,132.04 646.37,137.71 646.46,135.68 646.54,139.01 646.63,138.99 646.71,140.9 646.8,141.14 646.88,136.56 646.97,135.71 647.05,138.1 647.14,138.73 647.22,134.04 647.31,135.38 647.39,141.07 647.48,135.72 647.56,139.01 647.65,134.92 647.73,136.36 647.82,137.18 647.9,137.92 647.99,139.74 648.07,141.69 648.16,138.9 648.24,135.24 648.33,138.74 648.41,135.64 648.49,136.95 648.58,138.42 648.66,135.18 648.75,136.47 648.83,133.73 648.92,137.49 649,139.38 649.09,141.99 649.17,138.29 649.26,142.59 649.34,134.57 649.43,139.58 649.51,137.4 649.6,135.2 649.68,136.56 649.77,135.61 649.85,137.72 649.94,135.65 650.02,139.44 650.11,137.85 650.19,132.91 650.28,137.11 650.36,139.21 650.45,143.08 650.53,136.38 650.61,136.74 650.7,137.3 650.78,134.74 650.87,138.76 650.95,137.39 651.04,137.51 651.12,140.97 651.21,142.49 651.29,136.68 651.38,139.52 651.46,138.53 651.55,137.76 651.63,138.08 651.72,135.13 651.8,134.52 651.89,134.04 651.97,138.47 652.06,136.57 652.14,137.57 652.23,135.87 652.31,138.03 652.4,134.98 652.48,138.9 652.57,138.02 652.65,137.88 652.73,137.32 652.82,142.33 652.9,138.68 652.99,140.08 653.07,143.86 653.16,143.34 653.24,140.33 653.33,138.78 653.41,135.71 653.5,138.06 653.58,137.11 653.67,139.82 653.75,139.38 653.84,137.75 653.92,135.95 654.01,136.83 654.09,134.4 654.18,137.57 654.26,136 654.35,135.52 654.43,135.04 654.52,136.65 654.6,138.73 654.69,139.66 654.77,137.72 654.86,140 654.94,137.91 655.02,133.22 655.11,135.94 655.19,139.85 655.28,136 655.36,138.46 655.45,140.68 655.53,136.87 655.62,139.66 655.7,138.55 655.79,141.03 655.87,138.75 655.96,139.79 656.04,138.17 656.13,136.98 656.21,135.32 656.3,137.84 656.38,136.98 656.47,137.56 656.55,139.29 656.64,137.6 656.72,136.89 656.81,142 656.89,136.26 656.98,139.57 657.06,140.01 657.14,138.49 657.23,136.33 657.31,140.53 657.4,141.67 657.48,139.67 657.57,139.12 657.65,134.73 657.74,140.06 657.82,138.92 657.91,136.63 657.99,138.32 658.08,135.98 658.16,138.58 658.25,135.07 658.33,137.13 658.42,139.47 658.5,141.8 658.59,137.14 658.67,139.7 658.76,141.4 658.84,137.47 658.93,139.24 659.01,132.72 659.1,140.4 659.18,137.61 659.27,137.63 659.35,136.88 659.43,139.05 659.52,142.47 659.6,136.72 659.69,134.35 659.77,134.8 659.86,134.32 659.94,135.79 660.03,134.99 660.11,139.45 660.2,135.34 660.28,134.83 660.37,138.06 660.45,138.44 660.54,142.39 660.62,135.34 660.71,140.46 660.79,138.18 660.88,139.21 660.96,138.3 661.05,141.22 661.13,141.54 661.22,139.32 661.3,138.64 661.39,136.87 661.47,135.62 661.55,137.46 661.64,138.61 661.72,141.73 661.81,139.17 661.89,139.93 661.98,136.92 662.06,135.96 662.15,137.95 662.23,139.57 662.32,142.4 662.4,138.46 662.49,138.08 662.57,140.08 662.66,136.86 662.74,137.75 662.83,136.65 662.91,138.21 663,141.74 663.08,137.78 663.17,141.68 663.25,140.99 663.34,136.36 663.42,135.62 663.51,139.32 663.59,139.84 663.68,140.7 663.76,139.17 663.84,139.09 663.93,140.31 664.01,135.21 664.1,140.27 664.18,138.93 664.27,139.66 664.35,139.74 664.44,139.18 664.52,139 664.61,135.31 664.69,144.38 664.78,137.38 664.86,135.31 664.95,137.08 665.03,140.73 665.12,138.52 665.2,140.95 665.29,139.2 665.37,142.14 665.46,137.59 665.54,136.74 665.63,136.86 665.71,137.61 665.8,136.69 665.88,139.09 665.97,136.03 666.05,137.65 666.13,141.26 666.22,138.41 666.3,132.02 666.39,137.84 666.47,137.61 666.56,137.01 666.64,136.57 666.73,136.81 666.81,137.49 666.9,137.19 666.98,138.81 667.07,137.87 667.15,138.8 667.24,142.37 667.32,138.79 667.41,137.54 667.49,141.59 667.58,137.41 667.66,134.71 667.75,139.55 667.83,139.28 667.92,141.11 668,139.65 668.09,140.17 668.17,137.46 668.25,140.04 668.34,139.6 668.42,141.87 668.51,141.6 668.59,137.2 668.68,140.67 668.76,137.86 668.85,142.27 668.93,141.1 669.02,139.88 669.1,143.68 669.19,140.62 669.27,142.03 669.36,136.69 669.44,136.84 669.53,136.61 669.61,140.31 669.7,136.37 669.78,140.44 669.87,139.03 669.95,137.78 670.04,137.84 670.12,140.18 670.21,139.2 670.29,139.27 670.38,137.59 670.46,137.38 670.54,143.87 670.63,137.83 670.71,140.45 670.8,136.43 670.88,139.9 670.97,140.16 671.05,140.31 671.14,139.01 671.22,139.28 671.31,136.98 671.39,137.87 671.48,141.07 671.56,135.62 671.65,137.94 671.73,140.01 671.82,141.25 671.9,139.45 671.99,139.68 672.07,138.03 672.16,140.48 672.24,139.64 672.33,139.93 672.41,140 672.5,140.65 672.58,140.56 672.66,138.72 672.75,138.25 672.83,140.66 672.92,136.87 673,140.93 673.09,139.96 673.17,136.06 673.26,143.58 673.34,139.53 673.43,141.08 673.51,138.7 673.6,138.3 673.68,138.18 673.77,143.61 673.85,139.19 673.94,136.94 674.02,138.94 674.11,137.95 674.19,137.14 674.28,138.92 674.36,136.92 674.45,138.98 674.53,137.91 674.62,139.49 674.7,140.54 674.78,137.38 674.87,140.37 674.95,139.82 675.04,137.04 675.12,133.84 675.21,140 675.29,143.04 675.38,142.7 675.46,137.55 675.55,137.93 675.63,141.48 675.72,138.87 675.8,141.34 675.89,140.52 675.97,140.39 676.06,139.79 676.14,139.96 676.23,139.79 676.31,140.54 676.4,137.18 676.48,147.83 676.57,138.51 676.65,139.44 676.74,137.58 676.82,144.87 676.91,135.47 676.99,140.27 677.07,135.28 677.16,141.77 677.24,137.29 677.33,138.4 677.41,144.16 677.5,137.75 677.58,135.89 677.67,136.8 677.75,140.54 677.84,142.28 677.92,139.94 678.01,136.5 678.09,138.15 678.18,139.63 678.26,134.32 678.35,141.37 678.43,139.74 678.52,141.67 678.6,139.91 678.69,136.75 678.77,140.05 678.86,141.14 678.94,141.3 679.03,137.31 679.11,138.57 679.19,137.05 679.28,139.12 679.36,137.85 679.45,139.82 679.53,139.1 679.62,137.94 679.7,139.07 679.79,137.84 679.87,142 679.96,137.58 680.04,139.17 680.13,141.44 680.21,136.17 680.3,141.34 680.38,143.24 680.47,136.24 680.55,137.65 680.64,137.63 680.72,134.82 680.81,139.14 680.89,140.13 680.98,139.58 681.06,136.36 681.15,140.4 681.23,141.01 681.32,136.66 681.4,143.01" fill="none" stroke="#f2c3a3" stroke-width="0.8" stroke-linejoin="round"/>
<polyline points="460.9,13.6 460.98,14.37 461.07,15.14 461.15,15.9 461.24,16.65 461.32,17.41 461.41,18.17 461.49,18.92 461.58,19.67 461.66,20.4 461.75,21.18 461.83,21.9 461.92,22.65 462,23.4 462.09,24.08 462.17,24.87 462.26,25.64 462.34,26.34 462.43,27.1 462.51,27.9 462.6,28.56 462.68,29.27 462.77,30.17 462.85,30.78 462.94,31.53 463.02,32.25 463.1,32.91 463.19,33.57 463.27,34.57 463.36,34.96 463.44,35.8 463.53,36.27 463.61,36.87 463.7,37.4 463.78,38.2 463.87,38.68 463.95,39.22 464.04,39.83 464.12,40.26 464.21,41.03 464.29,41.86 464.38,42.39 464.46,42.88 464.55,43.36 464.63,43.8 464.72,44.38 464.8,44.93 464.89,45.46 464.97,46.13 465.06,46.5 465.14,47.27 465.23,47.59 465.31,47.97 465.39,48.66 465.48,49.29 465.56,50.24 465.65,50.15 465.73,50.73 465.82,51.46 465.9,51.72 465.99,52.25 466.07,53.06 466.16,53.76 466.24,54.08 466.33,55.17 466.41,54.67 466.5,55.96 466.58,56.26 466.67,56.69 466.75,57.86 466.84,57.79 466.92,58.81 467.01,59.2 467.09,59.07 467.18,59.87 467.26,60.91 467.35,61.86 467.43,61.68 467.51,62.01 467.6,62.23 467.68,63.36 467.77,63.73 467.85,64.31 467.94,63.91 468.02,65.39 468.11,64.78 468.19,65.78 468.28,65.61 468.36,67.31 468.45,67.05 468.53,68 468.62,68.3 468.7,68.47 468.79,68.47 468.87,70.09 468.96,68.96 469.04,69.62 469.13,69.45 469.21,70.86 469.3,70.85 469.38,71.41 469.47,71.38 469.55,72.51 469.64,72.29 469.72,74.9 469.8,73.48 469.89,73.24 469.97,73.59 470.06,74.66 470.14,73.97 470.23,74.5 470.31,74.22 470.4,75.87 470.48,76.29 470.57,76.72 470.65,78.01 470.74,77.55 470.82,80.18 470.91,76.99 470.99,77.43 471.08,79.22 471.16,79.62 471.25,78.86 471.33,78.72 471.42,78.13 471.5,80.29 471.59,79.43 471.67,80.66 471.76,80.05 471.84,81.28 471.92,80.78 472.01,81.11 472.09,84.62 472.18,83.05 472.26,82.88 472.35,83.05 472.43,82.75 472.52,83.96 472.6,82.91 472.69,85.34 472.77,85.39 472.86,85.18 472.94,84.16 473.03,86.38 473.11,85.92 473.2,86.22 473.28,86.44 473.37,84.97 473.45,88.16 473.54,88.1 473.62,87.77 473.71,88.98 473.79,88.69 473.88,87.63 473.96,89.05 474.05,87.04 474.13,89.42 474.21,90.33 474.3,89.13 474.38,90.17 474.47,91.05 474.55,90.39 474.64,90.52 474.72,91.3 474.81,93.83 474.89,91.98 474.98,94.7 475.06,89.98 475.15,91.61 475.23,90.83 475.32,93.3 475.4,92.47 475.49,93.61 475.57,92.68 475.66,92.4 475.74,94.37 475.83,93.97 475.91,94.65 476,97.27 476.08,95.67 476.17,93.71 476.25,95.78 476.33,95.4 476.42,96.96 476.5,97.27 476.59,97.1 476.67,97.29 476.76,96.79 476.84,98.6 476.93,98.71 477.01,95.79 477.1,97.91 477.18,98.25 477.27,96.63 477.35,96.8 477.44,99.54 477.52,98.47 477.61,99.13 477.69,96.74 477.78,99.65 477.86,97.02 477.95,99.71 478.03,100.49 478.12,100.66 478.2,100.9 478.29,100.93 478.37,99.07 478.46,102.28 478.54,99.35 478.62,102.16 478.71,100.89 478.79,102.82 478.88,100.66 478.96,104.64 479.05,104.79 479.13,100.9 479.22,102.44 479.3,101.67 479.39,103.17 479.47,100.93 479.56,102.31 479.64,101.02 479.73,106.36 479.81,101.19 479.9,103.61 479.98,103.9 480.07,104.91 480.15,103.98 480.24,104.7 480.32,104.98 480.41,103.55 480.49,103.02 480.58,104.97 480.66,102.8 480.75,104.49 480.83,107.3 480.91,106.54 481,108.54 481.08,104.45 481.17,104.82 481.25,105.4 481.34,104.72 481.42,106.91 481.51,105.48 481.59,103.6 481.68,106.83 481.76,105.6 481.85,105.12 481.93,105.93 482.02,104.01 482.1,101.09 482.19,105 482.27,108.26 482.36,105.06 482.44,104.66 482.53,105.14 482.61,108.03 482.7,109.04 482.78,107.53 482.87,109.29 482.95,109.41 483.03,110.75 483.12,106.27 483.2,107.84 483.29,106.86 483.37,108.13 483.46,106.89 483.54,106.17 483.63,107.01 483.71,105.35 483.8,107.11 483.88,108.78 483.97,106.62 484.05,109.84 484.14,105.66 484.22,110.64 484.31,111.59 484.39,107.8 484.48,111.67 484.56,109.63 484.65,110.73 484.73,108.86 484.82,108.92 484.9,110.27 484.99,111.08 485.07,110.17 485.15,109.99 485.24,112.36 485.32,106.96 485.41,109.86 485.49,108.13 485.58,107.68 485.66,110.18 485.75,108.47 485.83,109.19 485.92,115.07 486,109.19 486.09,112.64 486.17,106.9 486.26,114.18 486.34,109.87 486.43,108.55 486.51,111.78 486.6,111.92 486.68,115.17 486.77,112.59 486.85,112.69 486.94,110.82 487.02,113.51 487.11,112.57 487.19,112.84 487.28,110.8 487.36,110.46 487.44,114.43 487.53,111.11 487.61,114.36 487.7,109.81 487.78,110.63 487.87,112.05 487.95,114.34 488.04,115.3 488.12,120.66 488.21,113.06 488.29,116.55 488.38,113.77 488.46,111.25 488.55,117.79 488.63,109.82 488.72,114.36 488.8,116.2 488.89,115.21 488.97,111.45 489.06,113.75 489.14,112.85 489.23,116.72 489.31,115.45 489.4,112.38 489.48,114.62 489.56,113.92 489.65,117.08 489.73,115.6 489.82,117.78 489.9,113.62 489.99,111.93 490.07,111.85 490.16,116.82 490.24,113.69 490.33,110.94 490.41,117.29 490.5,112.27 490.58,112.77 490.67,117.83 490.75,111.83 490.84,115.26 490.92,112.15 491.01,117.42 491.09,117.73 491.18,118.74 491.26,116.81 491.35,117.19 491.43,114.28 491.52,115.96 491.6,113.89 491.69,115.34 491.77,115.12 491.85,116.71 491.94,116.51 492.02,117.69 492.11,118.35 492.19,119.8 492.28,115.56 492.36,114.23 492.45,118.47 492.53,117.42 492.62,119.94 492.7,115.8 492.79,115.14 492.87,117.07 492.96,117.04 493.04,114.91 493.13,119.94 493.21,113.73 493.3,117.39 493.38,116.05 493.47,116.25 493.55,119.82 493.64,116 493.72,119.03 493.81,115.42 493.89,118.64 493.97,118.19 494.06,112.15 494.14,118.31 494.23,117.5 494.31,118.97 494.4,119.38 494.48,114.6 494.57,118.01 494.65,115.04 494.74,119.07 494.82,118.35 494.91,118.27 494.99,117.72 495.08,118.11 495.16,118.46 495.25,123.86 495.33,116.98 495.42,117.04 495.5,118.32 495.59,114.37 495.67,117.95 495.76,115.73 495.84,118.84 495.93,118.26 496.01,120.49 496.1,117.43 496.18,115.21 496.26,119.3 496.35,121.33 496.43,116.16 496.52,116.01 496.6,120.35 496.69,114.99 496.77,118.12 496.86,116.54 496.94,123.01 497.03,118.64 497.11,123.39 497.2,123.99 497.28,116.25 497.37,120.51 497.45,118.24 497.54,119.66 497.62,120.11 497.71,117.31 497.79,118.3 497.88,119.16 497.96,118.95 498.05,120.34 498.13,120.12 498.22,118.98 498.3,119.74 498.38,119.96 498.47,116.01 498.55,118.16 498.64,117.58 498.72,118.88 498.81,119.25 498.89,121.54 498.98,118.09 499.06,119.79 499.15,117.18 499.23,120.19 499.32,121.26 499.4,116.4 499.49,120 499.57,123.22 499.66,122.77 499.74,118.23 499.83,121.28 499.91,118.13 500,118.59 500.08,121.47 500.17,115.6 500.25,122.67 500.34,118.1 500.42,116.28 500.51,120.97 500.59,123.47 500.67,121.67 500.76,118.21 500.84,122.44 500.93,118.88 501.01,121.74 501.1,120.82 501.18,117.5 501.27,116.58 501.35,120.41 501.44,124.77 501.52,122.8 501.61,122.86 501.69,121.72 501.78,116.86 501.86,120.89 501.95,120.39 502.03,121.8 502.12,121.67 502.2,126.1 502.29,121.48 502.37,119.04 502.46,119.32 502.54,120.79 502.63,116.45 502.71,122.24 502.79,122.79 502.88,124.73 502.96,125.77 503.05,124.69 503.13,125.43 503.22,125.97 503.3,122 503.39,124.88 503.47,121.34 503.56,120.97 503.64,122.04 503.73,121.42 503.81,125.19 503.9,121.01 503.98,120.79 504.07,120.51 504.15,127.02 504.24,124.81 504.32,125.44 504.41,122.58 504.49,123.97 504.58,124.79 504.66,123.11 504.75,121.82 504.83,121.54 504.92,124.09 505,121.91 505.08,123.35 505.17,120.52 505.25,121.19 505.34,117.39 505.42,121.35 505.51,123.55 505.59,125.06 505.68,122.68 505.76,122.94 505.85,122.89 505.93,124.1 506.02,119.77 506.1,125 506.19,121.76 506.27,125.72 506.36,124.49 506.44,129.1 506.53,124.22 506.61,120.75 506.7,121.57 506.78,118.12 506.87,120.63 506.95,124.48 507.04,121.25 507.12,123.47 507.2,121.54 507.29,127.7 507.37,128.16 507.46,125.6 507.54,124.64 507.63,126.89 507.71,123.97 507.8,126.43 507.88,124.59 507.97,128.47 508.05,123.97 508.14,123.68 508.22,121.36 508.31,123.58 508.39,124.88 508.48,127.94 508.56,123.88 508.65,125.33 508.73,126.07 508.82,125.54 508.9,124.51 508.99,124.96 509.07,127.29 509.16,129.95 509.24,124.93 509.33,127.7 509.41,121.21 509.49,130.86 509.58,122.14 509.66,132.81 509.75,123.58 509.83,126.21 509.92,129.47 510,123.45 510.09,125.93 510.17,128.41 510.26,125.29 510.34,129.09 510.43,129.65 510.51,122.98 510.6,125.04 510.68,123.98 510.77,119.8 510.85,124.29 510.94,128.96 511.02,129.48 511.11,127.74 511.19,128.64 511.28,127.94 511.36,125.31 511.45,129.41 511.53,128.45 511.61,124.51 511.7,125.55 511.78,125.9 511.87,126.17 511.95,128.8 512.04,125.71 512.12,126.93 512.21,126.5 512.29,129.68 512.38,129.65 512.46,129.88 512.55,121.18 512.63,131.36 512.72,127.2 512.8,125.72 512.89,126.64 512.97,126.51 513.06,127.05 513.14,129.11 513.23,123.91 513.31,129.07 513.4,130.68 513.48,130.81 513.57,125.79 513.65,128.6 513.74,130.68 513.82,126.33 513.9,129.42 513.99,124.24 514.07,129.63 514.16,127.96 514.24,125.52 514.33,126.11 514.41,124.42 514.5,124.5 514.58,125.41 514.67,127.34 514.75,127.03 514.84,127.12 514.92,127.2 515.01,126.31 515.09,129.27 515.18,127.28 515.26,127.24 515.35,127.37 515.43,130.28 515.52,124.65 515.6,129.2 515.69,129.94 515.77,126.46 515.86,128.89 515.94,123.38 516.02,127.02 516.11,124.2 516.19,128.07 516.28,130.25 516.36,127.43 516.45,129.9 516.53,128.86 516.62,128.01 516.7,128.37 516.79,128.47 516.87,129.27 516.96,127.5 517.04,124.71 517.13,126.45 517.21,126.31 517.3,126.96 517.38,126.25 517.47,126.85 517.55,129.08 517.64,126.78 517.72,124.22 517.81,125.4 517.89,133.03 517.98,126.83 518.06,128.74 518.15,126.45 518.23,130.03 518.31,125.97 518.4,131.84 518.48,127.34 518.57,129.63 518.65,127.89 518.74,129.31 518.82,126.31 518.91,127.33 518.99,126.17 519.08,125.37 519.16,125.99 519.25,125.61 519.33,126.96 519.42,126.01 519.5,128.13 519.59,129.76 519.67,131.54 519.76,132.31 519.84,132.09 519.93,130.3 520.01,125.69 520.1,131.87 520.18,125.72 520.27,132.71 520.35,125.81 520.43,129.03 520.52,133.01 520.6,127.82 520.69,126.75 520.77,129.17 520.86,125.6 520.94,131.07 521.03,128.54 521.11,130.15 521.2,130.74 521.28,134.58 521.37,129.33 521.45,131.05 521.54,126.31 521.62,126.43 521.71,128.46 521.79,127.59 521.88,128.82 521.96,134.32 522.05,128.19 522.13,128.25 522.22,129.4 522.3,128.51 522.39,129.8 522.47,135.15 522.56,129.54 522.64,127.98 522.72,127.71 522.81,129.27 522.89,124.93 522.98,130.12 523.06,133.69 523.15,132.1 523.23,127.44 523.32,129.85 523.4,126.89 523.49,129.67 523.57,127.29 523.66,127.57 523.74,133.36 523.83,131.53 523.91,128.42 524,129.29 524.08,135.08 524.17,131.98 524.25,128.14 524.34,131.64 524.42,132.83 524.51,128.39 524.59,124.41 524.68,131.14 524.76,133.99 524.85,132.72 524.93,132.89 525.01,133.2 525.1,129.39 525.18,131.76 525.27,127.72 525.35,131.19 525.44,127.03 525.52,130.96 525.61,128.26 525.69,131.05 525.78,131.31 525.86,129.83 525.95,133.44 526.03,130.64 526.12,128.78 526.2,129.43 526.29,130.9 526.37,130.73 526.46,130.75 526.54,128.18 526.63,132.12 526.71,131.89 526.8,130.31 526.88,133.65 526.97,130.02 527.05,131.09 527.13,131.03 527.22,132.46 527.3,127.11 527.39,133.49 527.47,133.14 527.56,131.64 527.64,134.56 527.73,131.32 527.81,131.3 527.9,133.86 527.98,130.55 528.07,136.78 528.15,129.51 528.24,128.45 528.32,130.9 528.41,126.89 528.49,128.52 528.58,129.56 528.66,135.89 528.75,133.91 528.83,133.59 528.92,130.46 529,131.77 529.09,126.79 529.17,132.43 529.25,134.81 529.34,131.78 529.42,132.58 529.51,137.85 529.59,132.92 529.68,133.91 529.76,132.4 529.85,128.3 529.93,129.22 530.02,132.08 530.1,130.96 530.19,127.28 530.27,133.55 530.36,130.89 530.44,129.92 530.53,131.27 530.61,130.57 530.7,137.6 530.78,132.34 530.87,127.76 530.95,133.45 531.04,131.71 531.12,129.16 531.21,129.68 531.29,129.83 531.38,133.13 531.46,132.71 531.54,131.99 531.63,123.57 531.71,131.44 531.8,131.86 531.88,126.69 531.97,134.77 532.05,133.78 532.14,132.42 532.22,134.59 532.31,132.08 532.39,133.99 532.48,131.39 532.56,132.87 532.65,131.2 532.73,134.17 532.82,134.08 532.9,134.39 532.99,136.18 533.07,132.22 533.16,134.08 533.24,133.15 533.33,129.06 533.41,132.98 533.5,131.88 533.58,133.98 533.66,133.09 533.75,127.2 533.83,136.14 533.92,136.68 534,129.8 534.09,132.04 534.17,131.18 534.26,137.59 534.34,130.27 534.43,131.91 534.51,133.66 534.6,137.87 534.68,131.67 534.77,135.02 534.85,126.79 534.94,132.49 535.02,133.41 535.11,128.94 535.19,134.63 535.28,133.36 535.36,131.07 535.45,133.96 535.53,130.95 535.62,136.24 535.7,136.9 535.79,133.38 535.87,132.87 535.95,137.14 536.04,133.11 536.12,135.47 536.21,132.08 536.29,132.18 536.38,134.32 536.46,130.41 536.55,134.4 536.63,132.67 536.72,129.86 536.8,131.91 536.89,134.26 536.97,131.03 537.06,136.02 537.14,132.93 537.23,130.09 537.31,133.87 537.4,135.57 537.48,135.48 537.57,131.96 537.65,132.18 537.74,135.27 537.82,132.43 537.91,132.94 537.99,136.87 538.07,131.45 538.16,131.5 538.24,124.96 538.33,134.53 538.41,134.94 538.5,133.54 538.58,134.65 538.67,136.54 538.75,136.28 538.84,136.95 538.92,126.54 539.01,137.02 539.09,134.83 539.18,130.47 539.26,131 539.35,137.29 539.43,137.11 539.52,136.14 539.6,131.91 539.69,134.68 539.77,134.07 539.86,133.47 539.94,136.97 540.03,132.37 540.11,132.52 540.2,129.97 540.28,129.81 540.36,134.67 540.45,132.59 540.53,135.7 540.62,145.69 540.7,136.27 540.79,131.61 540.87,133.83 540.96,135.73 541.04,134.82 541.13,138.49 541.21,137.55 541.3,136.02 541.38,136.94 541.47,134.89 541.55,136.3 541.64,136.49 541.72,130.47 541.81,132.8 541.89,136.12 541.98,135.12 542.06,147.4 542.15,135.14 542.23,132.1 542.32,129.1 542.4,135.89 542.49,130.25 542.57,135.44 542.65,131.58 542.74,129 542.82,131.64 542.91,130.85 542.99,135.06 543.08,133.91 543.16,131.34 543.25,129.21 543.33,137.39 543.42,134.86 543.5,140.24 543.59,139.62 543.67,138.68 543.76,132.98 543.84,133.43 543.93,132.63 544.01,130.94 544.1,132.6 544.18,137.28 544.27,135.97 544.35,136.64 544.44,137.09 544.52,129.98 544.61,136.71 544.69,136.74 544.77,135.18 544.86,137.01 544.94,135.17 545.03,137.51 545.11,131.46 545.2,135.67 545.28,132.66 545.37,134.69 545.45,136.92 545.54,132.35 545.62,136.1 545.71,135.59 545.79,140 545.88,131.85 545.96,134.74 546.05,131.93 546.13,131.86 546.22,134.92 546.3,135.22 546.39,136.35 546.47,134.62 546.56,132.04 546.64,137.03 546.73,135.01 546.81,132.35 546.89,132.66 546.98,134.88 547.06,129.75 547.15,128.46 547.23,137 547.32,140.7 547.4,133.72 547.49,135.07 547.57,129.94 547.66,141.57 547.74,135.19 547.83,131.86 547.91,131.61 548,134.78 548.08,136.56 548.17,139.02 548.25,134.12 548.34,138.07 548.42,138.68 548.51,136.22 548.59,141.95 548.68,134.49 548.76,134.18 548.85,135.29 548.93,133.3 549.02,138.36 549.1,135.06 549.18,133.55 549.27,134.47 549.35,133.45 549.44,133 549.52,138.8 549.61,135.42 549.69,137.45 549.78,140.19 549.86,131.13 549.95,136.03 550.03,136.1 550.12,134.7 550.2,137.3 550.29,138.2 550.37,134.49 550.46,135.75 550.54,132.65 550.63,136.14 550.71,134.65 550.8,132.16 550.88,137.69 550.97,137.07 551.05,135.99 551.14,134.36 551.22,132.41 551.3,136.44 551.39,133.53 551.47,136.42 551.56,132.3 551.64,133.42 551.73,137.43 551.81,136.58 551.9,137.4 551.98,132.81 552.07,132.03 552.15,137.6 552.24,134.9 552.32,133.99 552.41,135.19 552.49,133.88 552.58,130.84 552.66,136.41 552.75,138.46 552.83,132.24 552.92,138.31 553,136.14 553.09,137.3 553.17,131.93 553.26,137.67 553.34,130.63 553.43,136.09 553.51,140.26 553.59,140.69 553.68,131.36 553.76,130.08 553.85,134.97 553.93,134.71 554.02,137.9 554.1,135.35 554.19,136.32 554.27,138.93 554.36,138.41 554.44,135.33 554.53,135.4 554.61,137.41 554.7,139.37 554.78,130.86 554.87,137.97 554.95,137.99 555.04,133.35 555.12,139.18 555.21,135.15 555.29,138.8 555.38,137.87 555.46,137.01 555.55,139.96 555.63,143.61 555.71,138.37 555.8,136.78 555.88,136.85 555.97,138.28 556.05,139.08 556.14,132.93 556.22,140.3 556.31,132.63 556.39,136.9 556.48,134.85 556.56,138.07 556.65,135.12 556.73,136.13 556.82,133.74 556.9,135.53 556.99,133.4 557.07,138.23 557.16,137.8 557.24,137.42 557.33,138.36 557.41,134.22 557.5,138.57 557.58,137.78 557.67,141.03 557.75,141.37 557.84,130.95 557.92,137.54 558,133.47 558.09,135.98 558.17,136.09 558.26,140.47 558.34,135.22 558.43,137.17 558.51,136.01 558.6,134.88 558.68,135.37 558.77,136.55 558.85,141.41 558.94,136.06 559.02,135.03 559.11,137.5 559.19,133.84 559.28,145.16 559.36,133.5 559.45,129.09 559.53,143.07 559.62,138.29 559.7,135.96 559.79,134.8 559.87,139.52 559.96,135.2 560.04,135.21 560.12,134.8 560.21,146.06 560.29,136.7 560.38,140.34 560.46,136.83 560.55,142.62 560.63,144 560.72,140.76 560.8,135.67 560.89,131.79 560.97,140.3 561.06,137.21 561.14,138.75 561.23,134.85 561.31,130 561.4,140.53 561.48,135.04 561.57,133.12 561.65,138.33 561.74,137.95 561.82,136.17 561.91,141.25 561.99,133.99 562.08,130.4 562.16,133.71 562.25,139.19 562.33,142.48 562.41,143.08 562.5,132.18 562.58,135.3 562.67,140.87 562.75,137.81 562.84,132.3 562.92,131.16 563.01,134.91 563.09,138.37 563.18,132.61 563.26,139 563.35,134.42 563.43,139.14 563.52,136.32 563.6,136.74 563.69,136.76 563.77,134.82 563.86,139.12 563.94,138.22 564.03,140.06 564.11,132.86 564.2,135.96 564.28,134.59 564.37,135.66 564.45,135.81 564.53,140.8 564.62,143.27 564.7,139.91 564.79,137.03 564.87,132.94 564.96,138.04 565.04,139.3 565.13,137.48 565.21,136.72 565.3,144.15 565.38,131.71 565.47,139.62 565.55,135.07 565.64,140.65 565.72,135.3 565.81,141.54 565.89,135.39 565.98,136.39 566.06,138.89 566.15,135.21 566.23,135.42 566.32,142.77 566.4,137 566.49,136 566.57,136.64 566.66,135.23 566.74,137.07 566.82,135.55 566.91,133.89 566.99,136.72 567.08,142.86 567.16,138.18 567.25,138.09 567.33,141.32 567.42,140.23 567.5,135.34 567.59,141.84 567.67,138.36 567.76,141.88 567.84,141.31 567.93,137.16 568.01,142.53 568.1,137 568.18,140.61 568.27,139.48 568.35,137.89 568.44,139.01 568.52,137.63 568.61,137.57 568.69,132.83 568.78,136.91 568.86,135.21 568.94,139.59 569.03,137.1 569.11,133.78 569.2,138.81 569.28,141.08 569.37,136.46 569.45,139.5 569.54,136.87 569.62,138.21 569.71,135.8 569.79,134.42 569.88,139.54 569.96,135.53 570.05,135.07 570.13,139.59 570.22,138.41 570.3,141.09 570.39,135.63 570.47,137.71 570.56,135.92 570.64,137.73 570.73,146.46 570.81,139.8 570.9,136.19 570.98,139.56 571.07,132.79 571.15,142.38 571.23,141.37 571.32,134.93 571.4,139.07 571.49,137.62 571.57,140.75 571.66,136.14 571.74,140.79 571.83,136.86 571.91,134.6 572,136.36 572.08,141.76 572.17,133.3 572.25,136.7 572.34,136.61 572.42,142.4 572.51,144.94 572.59,139.91 572.68,136.06 572.76,133.16 572.85,141.73 572.93,136.69 573.02,138.67 573.1,138.28 573.19,137.77 573.27,135.43 573.36,137.03 573.44,133.6 573.52,141.9 573.61,138.77 573.69,139.64 573.78,136.69 573.86,140.07 573.95,138.36 574.03,135.2 574.12,142.06 574.2,139.66 574.29,140.09 574.37,139.93 574.46,138.23 574.54,140.52 574.63,139.79 574.71,135.21 574.8,136.72 574.88,140.28 574.97,136.09 575.05,142.81 575.14,140.5 575.22,135.79 575.31,135.32 575.39,144.3 575.48,137.98 575.56,141.09 575.64,135.59 575.73,140.19 575.81,140.31 575.9,140.24 575.98,143.17 576.07,143.04 576.15,140.67 576.24,139.74 576.32,138.44 576.41,137.48 576.49,134.45 576.58,141.62 576.66,138.13 576.75,141.45 576.83,139.2 576.92,134.91 577,143.78 577.09,141.12 577.17,138.37 577.26,139.52 577.34,137.86 577.43,142.02 577.51,138.76 577.6,137.24 577.68,138.58 577.76,135.46 577.85,137.8 577.93,141.11 578.02,134.61 578.1,133.19 578.19,137.49 578.27,135.26 578.36,133.42 578.44,140.02 578.53,133.99 578.61,134.19 578.7,135.22 578.78,138.02 578.87,143.51 578.95,137.49 579.04,137.86 579.12,135.82 579.21,135.85 579.29,140.98 579.38,139.35 579.46,143.18 579.55,143.13 579.63,136.6 579.72,139.25 579.8,137.39 579.89,139.46 579.97,140.32 580.05,139.46 580.14,140.81 580.22,139.75 580.31,138.19 580.39,139.38 580.48,140.53 580.56,139.78 580.65,138.28 580.73,143.76 580.82,138 580.9,137.76 580.99,135.14 581.07,142.45 581.16,139.96 581.24,138.4 581.33,142.85 581.41,141.15 581.5,139.65 581.58,141.54 581.67,136.36 581.75,136.58 581.84,146.08 581.92,140.85 582.01,137.24 582.09,144.89 582.17,139.92 582.26,154.1 582.34,135.49 582.43,135.55 582.51,138.89 582.6,142.8 582.68,139.48 582.77,146.32 582.85,139.81 582.94,138.08 583.02,146.48 583.11,139.91 583.19,144.17 583.28,143.27 583.36,141.03 583.45,138.84 583.53,139.06 583.62,138.53 583.7,141.25 583.79,143.93 583.87,139.46 583.96,138.28 584.04,140.22 584.13,139.59 584.21,139.67 584.3,134.6 584.38,138.63 584.46,138.92 584.55,140.98 584.63,140.69 584.72,142.06 584.8,141.12 584.89,138.7 584.97,148.09 585.06,142.4 585.14,141.26 585.23,137.29 585.31,138.07 585.4,138.19 585.48,133.68 585.57,140.15 585.65,140.96 585.74,140.29 585.82,136.95 585.91,136.29 585.99,140.84 586.08,136.39 586.16,144.36 586.25,141 586.33,140.27 586.42,143.71 586.5,142.19 586.59,140.38 586.67,139.89 586.75,141.18 586.84,144.74 586.92,140.46 587.01,136.3 587.09,138.65 587.18,138.31 587.26,137.73 587.35,141.88 587.43,134.08 587.52,145.07 587.6,136.21 587.69,147.64 587.77,159.87 587.86,138.17 587.94,144.09 588.03,143.87 588.11,140.6 588.2,140.57 588.28,142.23 588.37,132.84 588.45,143.61 588.54,141.99 588.62,139.71 588.71,138.61 588.79,144.1 588.87,137.31 588.96,144.03 589.04,141.27 589.13,140.65 589.21,143.34 589.3,138.96 589.38,141.33 589.47,145.84 589.55,143.18 589.64,142.69 589.72,139.83 589.81,138.61 589.89,143.62 589.98,138 590.06,140.97 590.15,138.02 590.23,139.64 590.32,139.7 590.4,143.26 590.49,143.8 590.57,137.44 590.66,135.98 590.74,141.79 590.83,137.41 590.91,138.92 591,141.15 591.08,144.6 591.16,143.25 591.25,139.79 591.33,145.93 591.42,136.41 591.5,140.69 591.59,138.95 591.67,139.67 591.76,140.19 591.84,142.55 591.93,139.09 592.01,140.41 592.1,133.16 592.18,139.05 592.27,144.03 592.35,139.31 592.44,139.18 592.52,133.77 592.61,133.94 592.69,136.06 592.78,143.9 592.86,142.31 592.95,139.47 593.03,141.5 593.12,138.54 593.2,135.42 593.28,142.33 593.37,136.83 593.45,141.98 593.54,135.6 593.62,143.77 593.71,142.45 593.79,140.48 593.88,139.83 593.96,139.65 594.05,144.74 594.13,139.28 594.22,138.09 594.3,147.1 594.39,139.3 594.47,143.03 594.56,139.13 594.64,142.25 594.73,143.79 594.81,137.15 594.9,137.06 594.98,136.96 595.07,139.49 595.15,144.14 595.24,137.61 595.32,142.83 595.4,141.96 595.49,144.07 595.57,140.87 595.66,147.14 595.74,137.43 595.83,143.02 595.91,137.94 596,144.85 596.08,142.03 596.17,139.08 596.25,143.24 596.34,137.92 596.42,144.69 596.51,139.84 596.59,134.58 596.68,143.02 596.76,141.79 596.85,142.42 596.93,143.48 597.02,136.69 597.1,145.38 597.19,135.77 597.27,132.85 597.36,138.96 597.44,141.08 597.53,146.93 597.61,143.17 597.69,143.69 597.78,143.85 597.86,145.76 597.95,144.32 598.03,144.37 598.12,149.23 598.2,140.27 598.29,140.15 598.37,136.48 598.46,137.46 598.54,143.81 598.63,142.51 598.71,142.71 598.8,139.1 598.88,144.99 598.97,140.54 599.05,134.89 599.14,144.34 599.22,137.32 599.31,143.02 599.39,140.84 599.48,140.6 599.56,141.38 599.65,140.53 599.73,137.23 599.81,145.95 599.9,140.67 599.98,143.86 600.07,141.35 600.15,138.12 600.24,141.28 600.32,147.89 600.41,139.5 600.49,141.83 600.58,138.31 600.66,142.21 600.75,140.08 600.83,140.12 600.92,139.88 601,143.52 601.09,141.78 601.17,141.1 601.26,140.22 601.34,144.91 601.43,145.39 601.51,139.17 601.6,143.79 601.68,142.09 601.77,142.95 601.85,140.26 601.94,141.69 602.02,138.82 602.1,149.87 602.19,142.41 602.27,139.74 602.36,142.94 602.44,141 602.53,142.38 602.61,141.01 602.7,141 602.78,144.42 602.87,149.28 602.95,135.17 603.04,142.13 603.12,143.38 603.21,142.16 603.29,145.85 603.38,141.43 603.46,144.3 603.55,147.66 603.63,135.23 603.72,143.94 603.8,139.05 603.89,136.86 603.97,143.44 604.06,140.11 604.14,140.74 604.23,140.93 604.31,136.69 604.39,148.77 604.48,140.98 604.56,142.99 604.65,140.49 604.73,140.51 604.82,138.93 604.9,145.79 604.99,138.53 605.07,137.81 605.16,140.91 605.24,145.15 605.33,138.52 605.41,141.34 605.5,146.16 605.58,140.01 605.67,141.55 605.75,137.19 605.84,150.97 605.92,138.59 606.01,140.16 606.09,137.73 606.18,142.69 606.26,142.15 606.35,147.44 606.43,143.77 606.51,144.81 606.6,144.4 606.68,140.95 606.77,146.53 606.85,143.27 606.94,143.99 607.02,142.48 607.11,141.13 607.19,141.09 607.28,150.78 607.36,138.86 607.45,144.77 607.53,147.83 607.62,143.38 607.7,143.21 607.79,144.38 607.87,141.85 607.96,145.43 608.04,140.54 608.13,154.27 608.21,150.51 608.3,144.43 608.38,144.44 608.47,140.46 608.55,142.91 608.63,141.97 608.72,142.06 608.8,137.03 608.89,141.16 608.97,142.18 609.06,135.86 609.14,148.56 609.23,144.51 609.31,139.57 609.4,143.63 609.48,140.98 609.57,142.57 609.65,142 609.74,140.46 609.82,137.68 609.91,139.83 609.99,138.49 610.08,139.1 610.16,141.65 610.25,143.89 610.33,145.62 610.42,142.25 610.5,138.13 610.59,143.03 610.67,138.77 610.76,145.67 610.84,143.01 610.92,139.49 611.01,147.16 611.09,141.69 611.18,138.51 611.26,145.17 611.35,145.68 611.43,141.13 611.52,143.61 611.6,145.81 611.69,140.94 611.77,140.27 611.86,145.98 611.94,138.27 612.03,140.4 612.11,141.58 612.2,144.99 612.28,145.11 612.37,140.07 612.45,143.09 612.54,139.3 612.62,145.58 612.71,141.15 612.79,147.48 612.88,147.66 612.96,142.65 613.04,142.79 613.13,147.49 613.21,142.94 613.3,148.33 613.38,149.45 613.47,147.2 613.55,143.19 613.64,145.42 613.72,146.43 613.81,139.85 613.89,145.53 613.98,144.05 614.06,141.05 614.15,145.3 614.23,139.8 614.32,143.55 614.4,137.93 614.49,141.98 614.57,142.14 614.66,144 614.74,142.66 614.83,136.65 614.91,145.83 615,141.9 615.08,137.46 615.17,141.21 615.25,138.45 615.33,146.1 615.42,137.24 615.5,145.59 615.59,137.14 615.67,141.45 615.76,145 615.84,139.56 615.93,141.22 616.01,139.45 616.1,140.24 616.18,143.3 616.27,144.74 616.35,156.75 616.44,145.09 616.52,141.28 616.61,143.83 616.69,141.51 616.78,138.94 616.86,142.5 616.95,148.77 617.03,141.22 617.12,143.1 617.2,144.92 617.29,141.42 617.37,147.94 617.45,141.72 617.54,133.94 617.62,151.36 617.71,140.84 617.79,149.1 617.88,143.81 617.96,145 618.05,147.18 618.13,145.83 618.22,139.08 618.3,145.96 618.39,141.45 618.47,142.17 618.56,140 618.64,146.59 618.73,143.59 618.81,145.17 618.9,145.92 618.98,145.91 619.07,138.5 619.15,149.14 619.24,143.09 619.32,139.76 619.41,141.14 619.49,141.93 619.58,144.58 619.66,139.84 619.74,140.63 619.83,145.47 619.91,144.02 620,141.69 620.08,140 620.17,144.33 620.25,142.23 620.34,143.75 620.42,136.62 620.51,140.11 620.59,147.83 620.68,140.78 620.76,140.73 620.85,145 620.93,144.43 621.02,144.99 621.1,140.17 621.19,142.77 621.27,140.22 621.36,143.2 621.44,147.03 621.53,146.42 621.61,144.28 621.7,139.46 621.78,140.16 621.87,140.12 621.95,144.59 622.03,143.82 622.12,141.25 622.2,147.07 622.29,142.11 622.37,149.2 622.46,144.98 622.54,136.58 622.63,139.13 622.71,144.52 622.8,143.62 622.88,144.67 622.97,140.03 623.05,146.82 623.14,149.42 623.22,143.05 623.31,144.49 623.39,148.45 623.48,145.38 623.56,146.76 623.65,141.36 623.73,140.7 623.82,144.83 623.9,144.36 623.99,138.85 624.07,142.53 624.15,140 624.24,145.54 624.32,143.86 624.41,148.06 624.49,143.27 624.58,140.7 624.66,145.32 624.75,147.22 624.83,147.66 624.92,146.81 625,144.13 625.09,141.11 625.17,145.01 625.26,142.19 625.34,140.97 625.43,145.26 625.51,143.02 625.6,143.96 625.68,144.31 625.77,143.17 625.85,142.18 625.94,141.19 626.02,140.66 626.11,146.16 626.19,142.31 626.27,143.54 626.36,148.7 626.44,140.74 626.53,142.26 626.61,148.04 626.7,141.08 626.78,146.76 626.87,149.63 626.95,144.73 627.04,143.88 627.12,143.53 627.21,144.87 627.29,141.44 627.38,139.1 627.46,144.68 627.55,142.06 627.63,143.46 627.72,143.22 627.8,152.66 627.89,142.15 627.97,151.51 628.06,142.87 628.14,144.61 628.23,143.84 628.31,145.39 628.4,146.13 628.48,143.14 628.56,145.92 628.65,144.27 628.73,143.81 628.82,140.65 628.9,145.26 628.99,146.7 629.07,141.46 629.16,144.75 629.24,144 629.33,147.2 629.41,143.79 629.5,136.74 629.58,143.4 629.67,139.14 629.75,144.15 629.84,145.53 629.92,149.12 630.01,142.45 630.09,145.35 630.18,142.19 630.26,143.45 630.35,143.52 630.43,143.44 630.52,143.02 630.6,144.48 630.68,145.61 630.77,142.11 630.85,143.56 630.94,143.3 631.02,144.55 631.11,147.73 631.19,141.09 631.28,146.21 631.36,145.18 631.45,145.33 631.53,147.37 631.62,143.87 631.7,144.64 631.79,142.44 631.87,145.05 631.96,138.62 632.04,148.2 632.13,143.97 632.21,137.59 632.3,143.08 632.38,144.19 632.47,144.09 632.55,143.42 632.64,142.93 632.72,144.54 632.81,146.15 632.89,145.86 632.97,146.06 633.06,140.73 633.14,141.9 633.23,142.11 633.31,139.02 633.4,142.03 633.48,139.12 633.57,146.38 633.65,140.4 633.74,144.61 633.82,143.76 633.91,145.78 633.99,139.02 634.08,144.49 634.16,149.59 634.25,146.06 634.33,150.09 634.42,141.64 634.5,148.49 634.59,143.86 634.67,144 634.76,139.72 634.84,140.89 634.93,146.16 635.01,145.38 635.1,143.89 635.18,145.51 635.26,146.43 635.35,148.03 635.43,137.56 635.52,143.38 635.6,147.84 635.69,148.45 635.77,142.7 635.86,141.51 635.94,149.01 636.03,143.67 636.11,147.42 636.2,143.47 636.28,139.78 636.37,136.77 636.45,141.63 636.54,144.4 636.62,148.41 636.71,146.53 636.79,144.6 636.88,145.41 636.96,138.86 637.05,144.72 637.13,149.05 637.22,144.58 637.3,149.28 637.38,139.67 637.47,144.92 637.55,146.48 637.64,138.72 637.72,142.94 637.81,146.39 637.89,141.16 637.98,146.68 638.06,150.13 638.15,143.97 638.23,142.22 638.32,139.88 638.4,144.07 638.49,141.66 638.57,142.33 638.66,142.69 638.74,138.53 638.83,148.97 638.91,143.83 639,140.56 639.08,142.91 639.17,142.56 639.25,144.48 639.34,147.26 639.42,141.13 639.5,146.48 639.59,146.37 639.67,145.06 639.76,140.68 639.84,149.53 639.93,146.29 640.01,141.19 640.1,145.57 640.18,147.09 640.27,142.73 640.35,145.02 640.44,145.21 640.52,144.03 640.61,144.93 640.69,140.44 640.78,148.05 640.86,145.54 640.95,144.91 641.03,139.58 641.12,139.42 641.2,141.51 641.29,140.78 641.37,145.51 641.46,139.08 641.54,143.85 641.63,144.6 641.71,144.77 641.79,144.81 641.88,148.15 641.96,144.81 642.05,141.94 642.13,143.04 642.22,150.98 642.3,145.49 642.39,140.86 642.47,141.79 642.56,144.35 642.64,139.66 642.73,145.12 642.81,146.63 642.9,148.95 642.98,145.38 643.07,148.58 643.15,144.96 643.24,142.16 643.32,144.46 643.41,143.77 643.49,140.07 643.58,148.83 643.66,144.73 643.75,144.54 643.83,145.31 643.91,146.49 644,145.52 644.08,149.16 644.17,141.56 644.25,141.37 644.34,145.51 644.42,149.78 644.51,141.26 644.59,147.35 644.68,146.31 644.76,142.58 644.85,143.94 644.93,142.58 645.02,148.14 645.1,144.37 645.19,146.36 645.27,145.69 645.36,148.28 645.44,145.09 645.53,144.21 645.61,146.92 645.7,146.92 645.78,142.61 645.87,143.7 645.95,150.89 646.04,148.09 646.12,144.37 646.2,145.33 646.29,142.76 646.37,147.07 646.46,138.19 646.54,141.54 646.63,142.56 646.71,141.12 646.8,143.84 646.88,146.29 646.97,147.35 647.05,144.54 647.14,149.78 647.22,147.11 647.31,137.41 647.39,146.88 647.48,140.08 647.56,145.35 647.65,146.96 647.73,144.53 647.82,145.51 647.9,144.83 647.99,144.67 648.07,143.81 648.16,146.47 648.24,144.7 648.33,149.2 648.41,145.66 648.49,141.34 648.58,145.01 648.66,140.98 648.75,140.47 648.83,149.17 648.92,143.22 649,142.84 649.09,142.5 649.17,144.16 649.26,151.33 649.34,142.85 649.43,143.67 649.51,147.45 649.6,146.14 649.68,140.9 649.77,160.95 649.85,142.24 649.94,146.18 650.02,149.26 650.11,143.97 650.19,151.06 650.28,146.74 650.36,139.15 650.45,149.13 650.53,145.42 650.61,140.96 650.7,145.88 650.78,145.16 650.87,140.81 650.95,139.26 651.04,136.95 651.12,144.82 651.21,143.47 651.29,153.56 651.38,147.93 651.46,146.32 651.55,139.65 651.63,147.57 651.72,145.2 651.8,146.19 651.89,149.14 651.97,142.49 652.06,142.24 652.14,147.3 652.23,148.16 652.31,147.1 652.4,143.1 652.48,146.83 652.57,142.78 652.65,147.26 652.73,148.14 652.82,144.59 652.9,143.98 652.99,145.33 653.07,143.38 653.16,145.86 653.24,145.76 653.33,143.2 653.41,141.04 653.5,147.54 653.58,145.29 653.67,146.99 653.75,143.12 653.84,147.6 653.92,138.76 654.01,143.95 654.09,141.32 654.18,149.83 654.26,138.12 654.35,147.71 654.43,152.85 654.52,141.89 654.6,146.98 654.69,144.12 654.77,144.98 654.86,140.88 654.94,146.28 655.02,148.6 655.11,144.22 655.19,145.49 655.28,146.49 655.36,146.63 655.45,144.48 655.53,148.05 655.62,142.84 655.7,148.58 655.79,147.97 655.87,144.94 655.96,143.26 656.04,144.77 656.13,144.94 656.21,144.02 656.3,146.95 656.38,145.17 656.47,146.58 656.55,146.54 656.64,143.07 656.72,145.38 656.81,144.84 656.89,145.39 656.98,149.24 657.06,145.68 657.14,142.34 657.23,148.81 657.31,146.28 657.4,140.26 657.48,148.75 657.57,151.17 657.65,144.01 657.74,142.86 657.82,145.85 657.91,148.39 657.99,140.85 658.08,144.59 658.16,144.64 658.25,143.94 658.33,143.82 658.42,150.6 658.5,146.73 658.59,147.27 658.67,149.34 658.76,146.72 658.84,139.83 658.93,149.24 659.01,142.9 659.1,144.21 659.18,142.35 659.27,143.39 659.35,143.64 659.43,150.74 659.52,142.77 659.6,143.09 659.69,143.47 659.77,150.53 659.86,143.93 659.94,144.62 660.03,148.35 660.11,148.88 660.2,143.47 660.28,145.14 660.37,148.84 660.45,143.71 660.54,148.74 660.62,145.4 660.71,142.37 660.79,146.37 660.88,145.38 660.96,142.68 661.05,151.04 661.13,146.09 661.22,142.06 661.3,146.07 661.39,143.12 661.47,145.58 661.55,143.57 661.64,143.45 661.72,150.55 661.81,145.82 661.89,146.54 661.98,144.43 662.06,148.56 662.15,149.91 662.23,143.75 662.32,142.95 662.4,146.63 662.49,152.36 662.57,151.4 662.66,150.67 662.74,146.94 662.83,146.69 662.91,145.42 663,144.64 663.08,148.67 663.17,151.97 663.25,148.35 663.34,147.54 663.42,143.68 663.51,141.69 663.59,144.67 663.68,147.38 663.76,144.69 663.84,148.11 663.93,148.24 664.01,146.62 664.1,148.54 664.18,145.09 664.27,146.09 664.35,148.68 664.44,141.47 664.52,144.75 664.61,151.76 664.69,145.04 664.78,145.06 664.86,148.34 664.95,138.91 665.03,143.46 665.12,139.71 665.2,145.58 665.29,146.44 665.37,147.09 665.46,147.49 665.54,144.64 665.63,145.67 665.71,146.36 665.8,147.6 665.88,143.96 665.97,151.39 666.05,149.43 666.13,146.32 666.22,145.21 666.3,143.98 666.39,142.32 666.47,142.56 666.56,142.77 666.64,145.28 666.73,148.7 666.81,148.37 666.9,154.74 666.98,144.76 667.07,148.41 667.15,149.58 667.24,145.87 667.32,144.25 667.41,145.19 667.49,147.02 667.58,145.34 667.66,145.85 667.75,150.12 667.83,146.23 667.92,146.4 668,143.03 668.09,151.54 668.17,148.32 668.25,143.69 668.34,144.76 668.42,140.5 668.51,141.11 668.59,152.71 668.68,150.73 668.76,142.48 668.85,147.27 668.93,149.5 669.02,149.72 669.1,147.26 669.19,147 669.27,139.72 669.36,149.26 669.44,149.65 669.53,148.8 669.61,147.77 669.7,142.98 669.78,146.68 669.87,145.35 669.95,143.93 670.04,146.5 670.12,149.33 670.21,152.08 670.29,140.93 670.38,150.13 670.46,147.67 670.54,149.8 670.63,144.52 670.71,149.64 670.8,146.35 670.88,145.87 670.97,150.57 671.05,142.28 671.14,150.37 671.22,146.65 671.31,143.6 671.39,144.91 671.48,142.24 671.56,145.44 671.65,144.5 671.73,147.52 671.82,142.57 671.9,150.82 671.99,149.35 672.07,151.71 672.16,143.8 672.24,151.06 672.33,150.44 672.41,148.49 672.5,143.15 672.58,151.18 672.66,148.44 672.75,146.13 672.83,156.78 672.92,149.66 673,143.74 673.09,144.33 673.17,145.17 673.26,146.98 673.34,143.49 673.43,145.72 673.51,147.49 673.6,147.57 673.68,147.8 673.77,143.4 673.85,145.54 673.94,146.43 674.02,143.69 674.11,147.67 674.19,144.64 674.28,145.57 674.36,142.89 674.45,144.5 674.53,145.98 674.62,144.95 674.7,142.82 674.78,150.34 674.87,150.09 674.95,147.51 675.04,148.25 675.12,146.68 675.21,144.53 675.29,151.05 675.38,146.62 675.46,150.51 675.55,142.83 675.63,145.34 675.72,144.82 675.8,145.19 675.89,145.45 675.97,143.51 676.06,146.22 676.14,146.41 676.23,150.01 676.31,151.19 676.4,145.34 676.48,149.17 676.57,146.17 676.65,146.29 676.74,145.8 676.82,146.82 676.91,148.49 676.99,142.69 677.07,143.27 677.16,144.99 677.24,147.45 677.33,145.61 677.41,149.68 677.5,144.04 677.58,138.7 677.67,143.16 677.75,145.1 677.84,144.13 677.92,143.79 678.01,146.71 678.09,142.52 678.18,145.74 678.26,142.85 678.35,147.5 678.43,143.3 678.52,145.01 678.6,150.98 678.69,149.31 678.77,145.75 678.86,138.44 678.94,147.23 679.03,145.66 679.11,149.4 679.19,145.85 679.28,146.75 679.36,146.77 679.45,147.59 679.53,147.76 679.62,151.23 679.7,151.99 679.79,144.1 679.87,147.39 679.96,149.43 680.04,151.47 680.13,147.7 680.21,145.51 680.3,144.4 680.38,146.3 680.47,145.67 680.55,147.65 680.64,151.89 680.72,152.82 680.81,146.79 680.89,148.94 680.98,150.21 681.06,152.57 681.15,146.81 681.23,147.17 681.32,149.41 681.4,146.09" fill="none" stroke="#3a7fb9" stroke-width="0.8" stroke-linejoin="round"/>
<polyline points="460.9,13.6 461.12,15.59 461.34,17.57 461.56,19.52 461.78,21.47 462,23.39 462.22,25.3 462.44,27.21 462.66,29.14 462.88,31.05 463.1,32.91 463.33,34.71 463.55,36.42 463.77,38.03 463.99,39.58 464.21,41.09 464.43,42.55 464.65,43.98 464.87,45.39 465.09,46.78 465.31,48.17 465.53,49.56 465.75,50.97 465.97,52.38 466.19,53.79 466.41,55.19 466.63,56.58 466.85,57.96 467.07,59.31 467.29,60.64 467.51,61.94 467.74,63.19 467.96,64.4 468.18,65.57 468.4,66.68 468.62,67.76 468.84,68.81 469.06,69.83 469.28,70.83 469.5,71.81 469.72,72.76 469.94,73.7 470.16,74.62 470.38,75.52 470.6,76.41 470.82,77.28 471.04,78.15 471.26,79.01 471.48,79.86 471.7,80.69 471.92,81.52 472.15,82.33 472.37,83.13 472.59,83.91 472.81,84.68 473.03,85.45 473.25,86.19 473.47,86.93 473.69,87.65 473.91,88.37 474.13,89.06 474.35,89.76 474.57,90.45 474.79,91.15 475.01,91.84 475.23,92.52 475.45,93.19 475.67,93.84 475.89,94.48 476.11,95.11 476.33,95.71 476.56,96.28 476.78,96.83 477,97.35 477.22,97.84 477.44,98.3 477.66,98.76 477.88,99.2 478.1,99.64 478.32,100.06 478.54,100.47 478.76,100.88 478.98,101.28 479.2,101.66 479.42,102.04 479.64,102.41 479.86,102.78 480.08,103.13 480.3,103.48 480.52,103.82 480.75,104.16 480.97,104.49 481.19,104.81 481.41,105.13 481.63,105.44 481.85,105.74 482.07,106.04 482.29,106.34 482.51,106.63 482.73,106.92 482.95,107.2 483.17,107.48 483.39,107.76 483.61,108.03 483.83,108.3 484.05,108.56 484.27,108.82 484.49,109.08 484.71,109.33 484.93,109.58 485.15,109.83 485.38,110.07 485.6,110.31 485.82,110.55 486.04,110.78 486.26,111.01 486.48,111.23 486.7,111.45 486.92,111.67 487.14,111.88 487.36,112.09" fill="none" stroke="#3a7fb9" stroke-width="1.3" stroke-linejoin="round"/>
<polyline points="460.9,13.6 461.12,15.39 461.34,17.14 461.56,18.83 461.78,20.46 462,22.04 462.22,23.54 462.44,24.98 462.66,26.34 462.88,27.66 463.1,28.94 463.33,30.2 463.55,31.47 463.77,32.76 463.99,34.08 464.21,35.43 464.43,36.79 464.65,38.16 464.87,39.53 465.09,40.9 465.31,42.26 465.53,43.59 465.75,44.9 465.97,46.18 466.19,47.42 466.41,48.61 466.63,49.74 466.85,50.84 467.07,51.9 467.29,52.94 467.51,53.96 467.74,54.95 467.96,55.93 468.18,56.88 468.4,57.83 468.62,58.75 468.84,59.67 469.06,60.59 469.28,61.49 469.5,62.39 469.72,63.3 469.94,64.2 470.16,65.1 470.38,66.02 470.6,66.94 470.82,67.88 471.04,68.82 471.26,69.77 471.48,70.72 471.7,71.67 471.92,72.6 472.15,73.52 472.37,74.43 472.59,75.3 472.81,76.15 473.03,76.97 473.25,77.75 473.47,78.49 473.69,79.18 473.91,79.83 474.13,80.46 474.35,81.08 474.57,81.67 474.79,82.24 475.01,82.79 475.23,83.33 475.45,83.85 475.67,84.36 475.89,84.85 476.11,85.34 476.33,85.81 476.56,86.27 476.78,86.72 477,87.17 477.22,87.6 477.44,88.03 477.66,88.44 477.88,88.84 478.1,89.24 478.32,89.62 478.54,89.99 478.76,90.36 478.98,90.72 479.2,91.06 479.42,91.41 479.64,91.74 479.86,92.07 480.08,92.39 480.3,92.71 480.52,93.02 480.75,93.33 480.97,93.64 481.19,93.93 481.41,94.22 481.63,94.51 481.85,94.79 482.07,95.06 482.29,95.33 482.51,95.59 482.73,95.84 482.95,96.08 483.17,96.32 483.39,96.55 483.61,96.77 483.83,96.99 484.05,97.2 484.27,97.41 484.49,97.61 484.71,97.81 484.93,98 485.15,98.2 485.38,98.4 485.6,98.6 485.82,98.8 486.04,99.01 486.26,99.22 486.48,99.44 486.7,99.66 486.92,99.88 487.14,100.1 487.36,100.32" fill="none" stroke="#f2c3a3" stroke-width="1.3" stroke-linejoin="round"/>
</g>
<path d="M460.05 11.9 H681.85 M460.05 189.1 H681.85" stroke="#141010" stroke-width="1.4" fill="none"/>
<path d="M460.9 11.9 V189.1 M681 11.9 V189.1" stroke="#141010" stroke-width="1.7" fill="none"/>
<path d="M460.9 189.1 v2.6 M482.95 189.1 v1.8 M505 189.1 v2.6 M527.05 189.1 v1.8 M549.1 189.1 v2.6 M571.15 189.1 v1.8 M593.2 189.1 v2.6 M615.25 189.1 v1.8 M637.3 189.1 v2.6 M659.35 189.1 v1.8 M681.4 189.1 v2.6 M460.9 189.1 h-3 M460.9 171.49 h-1.8 M460.9 161.19 h-1.8 M460.9 153.88 h-1.8 M460.9 148.21 h-1.8 M460.9 143.58 h-1.8 M460.9 139.66 h-1.8 M460.9 136.27 h-1.8 M460.9 133.28 h-1.8 M460.9 130.6 h-3 M460.9 112.99 h-1.8 M460.9 102.69 h-1.8 M460.9 95.38 h-1.8 M460.9 89.71 h-1.8 M460.9 85.08 h-1.8 M460.9 81.16 h-1.8 M460.9 77.77 h-1.8 M460.9 74.78 h-1.8 M460.9 72.1 h-3 M460.9 54.49 h-1.8 M460.9 44.19 h-1.8 M460.9 36.88 h-1.8 M460.9 31.21 h-1.8 M460.9 26.58 h-1.8 M460.9 22.66 h-1.8 M460.9 19.27 h-1.8 M460.9 16.28 h-1.8 M460.9 13.6 h-3" stroke="#141010" stroke-width="1.2" fill="none"/>
<text x="460.9" y="203.4" font-size="10.5" text-anchor="middle" font-weight="normal" fill="#231815" >0</text>
<text x="505" y="203.4" font-size="10.5" text-anchor="middle" font-weight="normal" fill="#231815" >1</text>
<text x="549.1" y="203.4" font-size="10.5" text-anchor="middle" font-weight="normal" fill="#231815" >2</text>
<text x="593.2" y="203.4" font-size="10.5" text-anchor="middle" font-weight="normal" fill="#231815" >3</text>
<text x="637.3" y="203.4" font-size="10.5" text-anchor="middle" font-weight="normal" fill="#231815" >4</text>
<text x="681.4" y="203.4" font-size="10.5" text-anchor="middle" font-weight="normal" fill="#231815" >5</text>
<text x="450.8" y="192.9" font-size="10.8" text-anchor="end" font-weight="normal" fill="#231815"  letter-spacing="0.2">10</text>
<text x="450.9" y="188.9" font-size="6.3" text-anchor="start" font-weight="normal" fill="#231815" >0</text>
<text x="450.8" y="134.4" font-size="10.8" text-anchor="end" font-weight="normal" fill="#231815"  letter-spacing="0.2">10</text>
<text x="450.9" y="130.4" font-size="6.3" text-anchor="start" font-weight="normal" fill="#231815" >1</text>
<text x="450.8" y="75.9" font-size="10.8" text-anchor="end" font-weight="normal" fill="#231815"  letter-spacing="0.2">10</text>
<text x="450.9" y="71.9" font-size="6.3" text-anchor="start" font-weight="normal" fill="#231815" >2</text>
<text x="450.8" y="17.4" font-size="10.8" text-anchor="end" font-weight="normal" fill="#231815"  letter-spacing="0.2">10</text>
<text x="450.9" y="13.4" font-size="6.3" text-anchor="start" font-weight="normal" fill="#231815" >3</text>
<text x="573.35" y="217.2" font-size="10.3" text-anchor="middle" font-weight="normal" fill="#231815"  letter-spacing="0.3">Time (µs)</text>
<text transform="translate(426.7 96.4) rotate(-90)" font-size="10.3" text-anchor="middle" fill="#231815" letter-spacing="0.1">PL intensity (counts)</text>
<path d="M540.2 30.9 H559.9" stroke="#3b82bd" stroke-width="1.2"/>
<path d="M540.2 47.6 H559.9" stroke="#f2c3a3" stroke-width="1.2"/>
<text x="563.6" y="34.8" font-size="10.3" fill="#231815" letter-spacing="0.3">Pero/CF<tspan font-size="6.5" dy="1.6">3</tspan><tspan dy="-1.6">-PBAPy/PVK</tspan></text>
<text x="563.3" y="51.4" font-size="10.3" text-anchor="start" font-weight="normal" fill="#231815"  letter-spacing="0.3">Pero/PTAA</text>
<text x="-1.5" y="276.4" font-size="22" text-anchor="start" font-weight="bold" fill="#231815" >c</text>
<g clip-path="url(#clipC)">
<polyline points="87,301 87.36,301 87.72,301 88.09,301 88.45,301 88.81,301 89.17,301 89.54,301 89.9,301 90.26,301 90.62,301 90.99,301 91.35,301 91.71,301 92.08,301 92.44,301 92.8,301 93.16,301 93.53,301 93.89,301 94.25,301 94.61,301 94.98,301 95.34,301 95.7,301 96.06,301 96.43,301 96.79,301 97.15,301 97.51,301 97.88,301 98.24,301 98.6,301 98.96,301 99.33,301 99.69,301 100.05,301 100.41,301 100.78,301 101.14,301 101.5,301 101.86,301 102.23,301 102.59,301 102.95,301.01 103.31,301.01 103.68,301.01 104.04,301.01 104.4,301.01 104.76,301.01 105.13,301.01 105.49,301.01 105.85,301.01 106.21,301.01 106.58,301.01 106.94,301.01 107.3,301.01 107.66,301.01 108.03,301.01 108.39,301.01 108.75,301.01 109.11,301.01 109.48,301.01 109.84,301.01 110.2,301.01 110.56,301.01 110.93,301.01 111.29,301.01 111.65,301.02 112.01,301.02 112.38,301.02 112.74,301.02 113.1,301.02 113.46,301.02 113.83,301.02 114.19,301.02 114.55,301.02 114.91,301.02 115.28,301.02 115.64,301.02 116,301.02 116.36,301.02 116.73,301.02 117.09,301.02 117.45,301.02 117.81,301.02 118.18,301.02 118.54,301.03 118.9,301.03 119.26,301.03 119.63,301.03 119.99,301.03 120.35,301.03 120.71,301.03 121.08,301.03 121.44,301.03 121.8,301.03 122.16,301.03 122.53,301.03 122.89,301.03 123.25,301.03 123.61,301.03 123.98,301.03 124.34,301.04 124.7,301.04 125.06,301.04 125.43,301.04 125.79,301.04 126.15,301.04 126.51,301.04 126.88,301.04 127.24,301.04 127.6,301.04 127.96,301.04 128.33,301.04 128.69,301.04 129.05,301.04 129.41,301.05 129.78,301.05 130.14,301.05 130.5,301.05 130.86,301.05 131.23,301.05 131.59,301.05 131.95,301.05 132.31,301.05 132.68,301.05 133.04,301.05 133.4,301.05 133.76,301.05 134.13,301.06 134.49,301.06 134.85,301.06 135.21,301.06 135.58,301.06 135.94,301.06 136.3,301.06 136.66,301.06 137.03,301.06 137.39,301.06 137.75,301.06 138.11,301.06 138.48,301.07 138.84,301.07 139.2,301.07 139.56,301.07 139.93,301.07 140.29,301.07 140.65,301.07 141.01,301.07 141.38,301.07 141.74,301.07 142.1,301.07 142.46,301.08 142.83,301.08 143.19,301.08 143.55,301.08 143.91,301.08 144.28,301.08 144.64,301.08 145,301.08 145.36,301.08 145.73,301.08 146.09,301.08 146.45,301.09 146.81,301.09 147.18,301.09 147.54,301.09 147.9,301.09 148.26,301.09 148.63,301.09 148.99,301.09 149.35,301.09 149.71,301.09 150.08,301.09 150.44,301.1 150.8,301.1 151.16,301.1 151.53,301.1 151.89,301.1 152.25,301.1 152.61,301.1 152.98,301.1 153.34,301.1 153.7,301.1 154.06,301.11 154.43,301.11 154.79,301.11 155.15,301.11 155.51,301.11 155.88,301.11 156.24,301.11 156.6,301.11 156.96,301.11 157.33,301.11 157.69,301.12 158.05,301.12 158.41,301.12 158.78,301.12 159.14,301.12 159.5,301.12 159.86,301.12 160.23,301.12 160.59,301.12 160.95,301.12 161.31,301.13 161.68,301.13 162.04,301.13 162.4,301.13 162.76,301.13 163.13,301.13 163.49,301.13 163.85,301.13 164.21,301.13 164.58,301.13 164.94,301.14 165.3,301.14 165.66,301.14 166.03,301.14 166.39,301.14 166.75,301.14 167.11,301.14 167.48,301.14 167.84,301.14 168.2,301.15 168.56,301.15 168.93,301.15 169.29,301.15 169.65,301.15 170.01,301.15 170.38,301.15 170.74,301.15 171.1,301.15 171.46,301.15 171.83,301.16 172.19,301.16 172.55,301.16 172.91,301.16 173.28,301.16 173.64,301.16 174,301.16 174.36,301.16 174.73,301.16 175.09,301.17 175.45,301.17 175.81,301.17 176.18,301.17 176.54,301.17 176.9,301.17 177.26,301.17 177.63,301.17 177.99,301.17 178.35,301.18 178.71,301.18 179.08,301.18 179.44,301.18 179.8,301.18 180.16,301.18 180.53,301.18 180.89,301.18 181.25,301.18 181.61,301.19 181.98,301.19 182.34,301.19 182.7,301.19 183.06,301.19 183.43,301.19 183.79,301.19 184.15,301.19 184.51,301.19 184.88,301.2 185.24,301.2 185.6,301.2 185.96,301.2 186.33,301.2 186.69,301.2 187.05,301.2 187.41,301.2 187.78,301.21 188.14,301.21 188.5,301.21 188.86,301.21 189.23,301.21 189.59,301.21 189.95,301.21 190.31,301.22 190.68,301.22 191.04,301.22 191.4,301.22 191.76,301.22 192.13,301.22 192.49,301.22 192.85,301.23 193.21,301.23 193.58,301.23 193.94,301.23 194.3,301.23 194.66,301.23 195.03,301.23 195.39,301.24 195.75,301.24 196.11,301.24 196.48,301.24 196.84,301.24 197.2,301.24 197.56,301.24 197.93,301.25 198.29,301.25 198.65,301.25 199.01,301.25 199.38,301.25 199.74,301.25 200.1,301.26 200.46,301.26 200.83,301.26 201.19,301.26 201.55,301.26 201.91,301.26 202.28,301.27 202.64,301.27 203,301.27 203.36,301.27 203.73,301.27 204.09,301.28 204.45,301.28 204.81,301.28 205.18,301.28 205.54,301.28 205.9,301.29 206.26,301.29 206.63,301.29 206.99,301.29 207.35,301.29 207.71,301.29 208.08,301.3 208.44,301.3 208.8,301.3 209.16,301.3 209.53,301.3 209.89,301.31 210.25,301.31 210.61,301.31 210.98,301.31 211.34,301.32 211.7,301.32 212.06,301.32 212.43,301.32 212.79,301.32 213.15,301.33 213.51,301.33 213.88,301.33 214.24,301.33 214.6,301.33 214.96,301.34 215.33,301.34 215.69,301.34 216.05,301.34 216.41,301.35 216.78,301.35 217.14,301.35 217.5,301.35 217.86,301.36 218.23,301.36 218.59,301.36 218.95,301.36 219.31,301.37 219.68,301.37 220.04,301.37 220.4,301.37 220.76,301.38 221.13,301.38 221.49,301.38 221.85,301.38 222.21,301.39 222.58,301.39 222.94,301.39 223.3,301.39 223.66,301.4 224.03,301.4 224.39,301.4 224.75,301.41 225.11,301.41 225.48,301.41 225.84,301.41 226.2,301.42 226.56,301.42 226.93,301.42 227.29,301.43 227.65,301.43 228.01,301.43 228.38,301.43 228.74,301.44 229.1,301.44 229.46,301.44 229.83,301.45 230.19,301.45 230.55,301.45 230.91,301.46 231.28,301.46 231.64,301.46 232,301.47 232.36,301.47 232.73,301.47 233.09,301.48 233.45,301.48 233.81,301.48 234.18,301.49 234.54,301.49 234.9,301.5 235.26,301.5 235.63,301.51 235.99,301.51 236.35,301.52 236.71,301.52 237.08,301.53 237.44,301.53 237.8,301.54 238.16,301.55 238.53,301.55 238.89,301.56 239.25,301.57 239.61,301.57 239.98,301.58 240.34,301.59 240.7,301.59 241.06,301.6 241.43,301.61 241.79,301.61 242.15,301.62 242.51,301.63 242.88,301.64 243.24,301.65 243.6,301.66 243.96,301.66 244.33,301.67 244.69,301.68 245.05,301.69 245.41,301.7 245.78,301.71 246.14,301.72 246.5,301.73 246.86,301.74 247.23,301.76 247.59,301.77 247.95,301.78 248.31,301.79 248.68,301.8 249.04,301.82 249.4,301.83 249.76,301.85 250.13,301.86 250.49,301.87 250.85,301.89 251.21,301.91 251.58,301.92 251.94,301.94 252.3,301.96 252.66,301.97 253.03,301.99 253.39,302.01 253.75,302.03 254.11,302.05 254.48,302.08 254.84,302.1 255.2,302.13 255.56,302.16 255.93,302.19 256.29,302.22 256.65,302.26 257.01,302.29 257.38,302.33 257.74,302.37 258.1,302.41 258.46,302.45 258.83,302.49 259.19,302.54 259.55,302.59 259.91,302.63 260.28,302.68 260.64,302.73 261,302.79 261.36,302.84 261.73,302.9 262.09,302.95 262.45,303.01 262.81,303.07 263.18,303.13 263.54,303.2 263.9,303.28 264.26,303.36 264.63,303.45 264.99,303.55 265.35,303.66 265.71,303.76 266.08,303.88 266.44,303.99 266.8,304.12 267.16,304.24 267.53,304.37 267.89,304.5 268.25,304.63 268.61,304.76 268.98,304.89 269.34,305.02 269.7,305.15 270.06,305.29 270.43,305.42 270.79,305.56 271.15,305.7 271.51,305.85 271.88,306 272.24,306.15 272.6,306.31 272.96,306.48 273.33,306.65 273.69,306.83 274.05,307.02 274.41,307.22 274.78,307.43 275.14,307.65 275.5,307.88 275.86,308.14 276.23,308.41 276.59,308.71 276.95,309.02 277.31,309.34 277.68,309.69 278.04,310.05 278.4,310.44 278.76,310.85 279.13,311.3 279.49,311.78 279.85,312.3 280.21,312.87 280.58,313.48 280.94,314.14 281.3,314.94 281.66,315.9 282.03,316.95 282.39,318.04 282.75,319.11 283.11,320.13 283.48,321.13 283.84,322.17 284.2,323.28 284.56,324.49 284.93,325.85 285.29,327.37 285.65,328.98 286.01,330.65 286.38,332.32 286.74,333.97 287.1,335.64 287.46,337.36 287.83,339.14 288.19,341.02 288.55,342.97 288.91,344.98 289.28,347.08 289.64,349.31 290,351.72 290.36,354.37 290.73,357.43 291.09,360.75 291.45,364.17 291.81,367.49 292.18,370.62 292.54,373.64 292.9,376.68 293.26,379.87 293.63,383.33 293.99,387.22 294.35,391.73 294.71,396.63 295.08,401.62 295.44,406.41 295.8,410.94 296.16,415.4 296.53,419.81 296.89,424.22 297.25,428.65 297.61,433.12 297.98,437.55 298.34,441.97 298.7,446.47 299.06,451.11 299.43,455.94 299.79,460.95 300.15,466.11 300.51,471.42" fill="none" stroke="#4a8fc8" stroke-width="1.1"/>
<circle cx="87" cy="301.3" r="2.2" fill="url(#gBody)"/><circle cx="86.5" cy="300.7" r="1.1" fill="url(#gSpec)"/>
<circle cx="88.81" cy="301.3" r="2.2" fill="url(#gBody)"/><circle cx="88.31" cy="300.7" r="1.1" fill="url(#gSpec)"/>
<circle cx="90.62" cy="301.3" r="2.2" fill="url(#gBody)"/><circle cx="90.12" cy="300.7" r="1.1" fill="url(#gSpec)"/>
<circle cx="92.44" cy="301.3" r="2.2" fill="url(#gBody)"/><circle cx="91.94" cy="300.7" r="1.1" fill="url(#gSpec)"/>
<circle cx="94.25" cy="301.3" r="2.2" fill="url(#gBody)"/><circle cx="93.75" cy="300.7" r="1.1" fill="url(#gSpec)"/>
<circle cx="96.06" cy="301.3" r="2.2" fill="url(#gBody)"/><circle cx="95.56" cy="300.7" r="1.1" fill="url(#gSpec)"/>
<circle cx="97.88" cy="301.3" r="2.2" fill="url(#gBody)"/><circle cx="97.38" cy="300.7" r="1.1" fill="url(#gSpec)"/>
<circle cx="99.69" cy="301.3" r="2.2" fill="url(#gBody)"/><circle cx="99.19" cy="300.7" r="1.1" fill="url(#gSpec)"/>
<circle cx="101.5" cy="301.3" r="2.2" fill="url(#gBody)"/><circle cx="101" cy="300.7" r="1.1" fill="url(#gSpec)"/>
<circle cx="103.31" cy="301.31" r="2.2" fill="url(#gBody)"/><circle cx="102.81" cy="300.71" r="1.1" fill="url(#gSpec)"/>
<circle cx="105.12" cy="301.31" r="2.2" fill="url(#gBody)"/><circle cx="104.62" cy="300.71" r="1.1" fill="url(#gSpec)"/>
<circle cx="106.94" cy="301.31" r="2.2" fill="url(#gBody)"/><circle cx="106.44" cy="300.71" r="1.1" fill="url(#gSpec)"/>
<circle cx="108.75" cy="301.31" r="2.2" fill="url(#gBody)"/><circle cx="108.25" cy="300.71" r="1.1" fill="url(#gSpec)"/>
<circle cx="110.56" cy="301.31" r="2.2" fill="url(#gBody)"/><circle cx="110.06" cy="300.71" r="1.1" fill="url(#gSpec)"/>
<circle cx="112.38" cy="301.32" r="2.2" fill="url(#gBody)"/><circle cx="111.88" cy="300.72" r="1.1" fill="url(#gSpec)"/>
<circle cx="114.19" cy="301.32" r="2.2" fill="url(#gBody)"/><circle cx="113.69" cy="300.72" r="1.1" fill="url(#gSpec)"/>
<circle cx="116" cy="301.32" r="2.2" fill="url(#gBody)"/><circle cx="115.5" cy="300.72" r="1.1" fill="url(#gSpec)"/>
<circle cx="117.81" cy="301.32" r="2.2" fill="url(#gBody)"/><circle cx="117.31" cy="300.72" r="1.1" fill="url(#gSpec)"/>
<circle cx="119.62" cy="301.33" r="2.2" fill="url(#gBody)"/><circle cx="119.12" cy="300.73" r="1.1" fill="url(#gSpec)"/>
<circle cx="121.44" cy="301.33" r="2.2" fill="url(#gBody)"/><circle cx="120.94" cy="300.73" r="1.1" fill="url(#gSpec)"/>
<circle cx="123.25" cy="301.33" r="2.2" fill="url(#gBody)"/><circle cx="122.75" cy="300.73" r="1.1" fill="url(#gSpec)"/>
<circle cx="125.06" cy="301.34" r="2.2" fill="url(#gBody)"/><circle cx="124.56" cy="300.74" r="1.1" fill="url(#gSpec)"/>
<circle cx="126.88" cy="301.34" r="2.2" fill="url(#gBody)"/><circle cx="126.38" cy="300.74" r="1.1" fill="url(#gSpec)"/>
<circle cx="128.69" cy="301.34" r="2.2" fill="url(#gBody)"/><circle cx="128.19" cy="300.74" r="1.1" fill="url(#gSpec)"/>
<circle cx="130.5" cy="301.35" r="2.2" fill="url(#gBody)"/><circle cx="130" cy="300.75" r="1.1" fill="url(#gSpec)"/>
<circle cx="132.31" cy="301.35" r="2.2" fill="url(#gBody)"/><circle cx="131.81" cy="300.75" r="1.1" fill="url(#gSpec)"/>
<circle cx="134.12" cy="301.36" r="2.2" fill="url(#gBody)"/><circle cx="133.62" cy="300.76" r="1.1" fill="url(#gSpec)"/>
<circle cx="135.94" cy="301.36" r="2.2" fill="url(#gBody)"/><circle cx="135.44" cy="300.76" r="1.1" fill="url(#gSpec)"/>
<circle cx="137.75" cy="301.36" r="2.2" fill="url(#gBody)"/><circle cx="137.25" cy="300.76" r="1.1" fill="url(#gSpec)"/>
<circle cx="139.56" cy="301.37" r="2.2" fill="url(#gBody)"/><circle cx="139.06" cy="300.77" r="1.1" fill="url(#gSpec)"/>
<circle cx="141.38" cy="301.37" r="2.2" fill="url(#gBody)"/><circle cx="140.88" cy="300.77" r="1.1" fill="url(#gSpec)"/>
<circle cx="143.19" cy="301.38" r="2.2" fill="url(#gBody)"/><circle cx="142.69" cy="300.78" r="1.1" fill="url(#gSpec)"/>
<circle cx="145" cy="301.38" r="2.2" fill="url(#gBody)"/><circle cx="144.5" cy="300.78" r="1.1" fill="url(#gSpec)"/>
<circle cx="146.81" cy="301.39" r="2.2" fill="url(#gBody)"/><circle cx="146.31" cy="300.79" r="1.1" fill="url(#gSpec)"/>
<circle cx="148.62" cy="301.39" r="2.2" fill="url(#gBody)"/><circle cx="148.12" cy="300.79" r="1.1" fill="url(#gSpec)"/>
<circle cx="150.44" cy="301.4" r="2.2" fill="url(#gBody)"/><circle cx="149.94" cy="300.8" r="1.1" fill="url(#gSpec)"/>
<circle cx="152.25" cy="301.4" r="2.2" fill="url(#gBody)"/><circle cx="151.75" cy="300.8" r="1.1" fill="url(#gSpec)"/>
<circle cx="154.06" cy="301.41" r="2.2" fill="url(#gBody)"/><circle cx="153.56" cy="300.81" r="1.1" fill="url(#gSpec)"/>
<circle cx="155.88" cy="301.41" r="2.2" fill="url(#gBody)"/><circle cx="155.38" cy="300.81" r="1.1" fill="url(#gSpec)"/>
<circle cx="157.69" cy="301.42" r="2.2" fill="url(#gBody)"/><circle cx="157.19" cy="300.82" r="1.1" fill="url(#gSpec)"/>
<circle cx="159.5" cy="301.42" r="2.2" fill="url(#gBody)"/><circle cx="159" cy="300.82" r="1.1" fill="url(#gSpec)"/>
<circle cx="161.31" cy="301.43" r="2.2" fill="url(#gBody)"/><circle cx="160.81" cy="300.83" r="1.1" fill="url(#gSpec)"/>
<circle cx="163.12" cy="301.43" r="2.2" fill="url(#gBody)"/><circle cx="162.62" cy="300.83" r="1.1" fill="url(#gSpec)"/>
<circle cx="164.94" cy="301.44" r="2.2" fill="url(#gBody)"/><circle cx="164.44" cy="300.84" r="1.1" fill="url(#gSpec)"/>
<circle cx="166.75" cy="301.44" r="2.2" fill="url(#gBody)"/><circle cx="166.25" cy="300.84" r="1.1" fill="url(#gSpec)"/>
<circle cx="168.56" cy="301.45" r="2.2" fill="url(#gBody)"/><circle cx="168.06" cy="300.85" r="1.1" fill="url(#gSpec)"/>
<circle cx="170.38" cy="301.45" r="2.2" fill="url(#gBody)"/><circle cx="169.88" cy="300.85" r="1.1" fill="url(#gSpec)"/>
<circle cx="172.19" cy="301.46" r="2.2" fill="url(#gBody)"/><circle cx="171.69" cy="300.86" r="1.1" fill="url(#gSpec)"/>
<circle cx="174" cy="301.46" r="2.2" fill="url(#gBody)"/><circle cx="173.5" cy="300.86" r="1.1" fill="url(#gSpec)"/>
<circle cx="175.81" cy="301.47" r="2.2" fill="url(#gBody)"/><circle cx="175.31" cy="300.87" r="1.1" fill="url(#gSpec)"/>
<circle cx="177.62" cy="301.47" r="2.2" fill="url(#gBody)"/><circle cx="177.12" cy="300.87" r="1.1" fill="url(#gSpec)"/>
<circle cx="179.44" cy="301.48" r="2.2" fill="url(#gBody)"/><circle cx="178.94" cy="300.88" r="1.1" fill="url(#gSpec)"/>
<circle cx="181.25" cy="301.48" r="2.2" fill="url(#gBody)"/><circle cx="180.75" cy="300.88" r="1.1" fill="url(#gSpec)"/>
<circle cx="183.06" cy="301.49" r="2.2" fill="url(#gBody)"/><circle cx="182.56" cy="300.89" r="1.1" fill="url(#gSpec)"/>
<circle cx="184.88" cy="301.5" r="2.2" fill="url(#gBody)"/><circle cx="184.38" cy="300.9" r="1.1" fill="url(#gSpec)"/>
<circle cx="186.69" cy="301.5" r="2.2" fill="url(#gBody)"/><circle cx="186.19" cy="300.9" r="1.1" fill="url(#gSpec)"/>
<circle cx="188.5" cy="301.51" r="2.2" fill="url(#gBody)"/><circle cx="188" cy="300.91" r="1.1" fill="url(#gSpec)"/>
<circle cx="190.31" cy="301.52" r="2.2" fill="url(#gBody)"/><circle cx="189.81" cy="300.92" r="1.1" fill="url(#gSpec)"/>
<circle cx="192.12" cy="301.52" r="2.2" fill="url(#gBody)"/><circle cx="191.62" cy="300.92" r="1.1" fill="url(#gSpec)"/>
<circle cx="193.94" cy="301.53" r="2.2" fill="url(#gBody)"/><circle cx="193.44" cy="300.93" r="1.1" fill="url(#gSpec)"/>
<circle cx="195.75" cy="301.54" r="2.2" fill="url(#gBody)"/><circle cx="195.25" cy="300.94" r="1.1" fill="url(#gSpec)"/>
<circle cx="197.56" cy="301.54" r="2.2" fill="url(#gBody)"/><circle cx="197.06" cy="300.94" r="1.1" fill="url(#gSpec)"/>
<circle cx="199.38" cy="301.55" r="2.2" fill="url(#gBody)"/><circle cx="198.88" cy="300.95" r="1.1" fill="url(#gSpec)"/>
<circle cx="201.19" cy="301.56" r="2.2" fill="url(#gBody)"/><circle cx="200.69" cy="300.96" r="1.1" fill="url(#gSpec)"/>
<circle cx="203" cy="301.57" r="2.2" fill="url(#gBody)"/><circle cx="202.5" cy="300.97" r="1.1" fill="url(#gSpec)"/>
<circle cx="204.81" cy="301.58" r="2.2" fill="url(#gBody)"/><circle cx="204.31" cy="300.98" r="1.1" fill="url(#gSpec)"/>
<circle cx="206.62" cy="301.59" r="2.2" fill="url(#gBody)"/><circle cx="206.12" cy="300.99" r="1.1" fill="url(#gSpec)"/>
<circle cx="208.44" cy="301.6" r="2.2" fill="url(#gBody)"/><circle cx="207.94" cy="301" r="1.1" fill="url(#gSpec)"/>
<circle cx="210.25" cy="301.61" r="2.2" fill="url(#gBody)"/><circle cx="209.75" cy="301.01" r="1.1" fill="url(#gSpec)"/>
<circle cx="212.06" cy="301.62" r="2.2" fill="url(#gBody)"/><circle cx="211.56" cy="301.02" r="1.1" fill="url(#gSpec)"/>
<circle cx="213.88" cy="301.63" r="2.2" fill="url(#gBody)"/><circle cx="213.38" cy="301.03" r="1.1" fill="url(#gSpec)"/>
<circle cx="215.69" cy="301.64" r="2.2" fill="url(#gBody)"/><circle cx="215.19" cy="301.04" r="1.1" fill="url(#gSpec)"/>
<circle cx="217.5" cy="301.65" r="2.2" fill="url(#gBody)"/><circle cx="217" cy="301.05" r="1.1" fill="url(#gSpec)"/>
<circle cx="219.31" cy="301.67" r="2.2" fill="url(#gBody)"/><circle cx="218.81" cy="301.07" r="1.1" fill="url(#gSpec)"/>
<circle cx="221.12" cy="301.68" r="2.2" fill="url(#gBody)"/><circle cx="220.62" cy="301.08" r="1.1" fill="url(#gSpec)"/>
<circle cx="222.94" cy="301.69" r="2.2" fill="url(#gBody)"/><circle cx="222.44" cy="301.09" r="1.1" fill="url(#gSpec)"/>
<circle cx="224.75" cy="301.71" r="2.2" fill="url(#gBody)"/><circle cx="224.25" cy="301.11" r="1.1" fill="url(#gSpec)"/>
<circle cx="226.56" cy="301.72" r="2.2" fill="url(#gBody)"/><circle cx="226.06" cy="301.12" r="1.1" fill="url(#gSpec)"/>
<circle cx="228.38" cy="301.73" r="2.2" fill="url(#gBody)"/><circle cx="227.88" cy="301.13" r="1.1" fill="url(#gSpec)"/>
<circle cx="230.19" cy="301.75" r="2.2" fill="url(#gBody)"/><circle cx="229.69" cy="301.15" r="1.1" fill="url(#gSpec)"/>
<circle cx="232" cy="301.77" r="2.2" fill="url(#gBody)"/><circle cx="231.5" cy="301.17" r="1.1" fill="url(#gSpec)"/>
<circle cx="233.81" cy="301.78" r="2.2" fill="url(#gBody)"/><circle cx="233.31" cy="301.18" r="1.1" fill="url(#gSpec)"/>
<circle cx="235.62" cy="301.81" r="2.2" fill="url(#gBody)"/><circle cx="235.12" cy="301.21" r="1.1" fill="url(#gSpec)"/>
<circle cx="237.44" cy="301.83" r="2.2" fill="url(#gBody)"/><circle cx="236.94" cy="301.23" r="1.1" fill="url(#gSpec)"/>
<circle cx="239.25" cy="301.87" r="2.2" fill="url(#gBody)"/><circle cx="238.75" cy="301.27" r="1.1" fill="url(#gSpec)"/>
<circle cx="241.06" cy="301.9" r="2.2" fill="url(#gBody)"/><circle cx="240.56" cy="301.3" r="1.1" fill="url(#gSpec)"/>
<circle cx="242.88" cy="301.94" r="2.2" fill="url(#gBody)"/><circle cx="242.38" cy="301.34" r="1.1" fill="url(#gSpec)"/>
<circle cx="244.69" cy="301.98" r="2.2" fill="url(#gBody)"/><circle cx="244.19" cy="301.38" r="1.1" fill="url(#gSpec)"/>
<circle cx="246.5" cy="302.03" r="2.2" fill="url(#gBody)"/><circle cx="246" cy="301.43" r="1.1" fill="url(#gSpec)"/>
<circle cx="248.31" cy="302.09" r="2.2" fill="url(#gBody)"/><circle cx="247.81" cy="301.49" r="1.1" fill="url(#gSpec)"/>
<circle cx="250.12" cy="302.16" r="2.2" fill="url(#gBody)"/><circle cx="249.62" cy="301.56" r="1.1" fill="url(#gSpec)"/>
<circle cx="251.94" cy="302.24" r="2.2" fill="url(#gBody)"/><circle cx="251.44" cy="301.64" r="1.1" fill="url(#gSpec)"/>
<circle cx="253.75" cy="302.33" r="2.2" fill="url(#gBody)"/><circle cx="253.25" cy="301.73" r="1.1" fill="url(#gSpec)"/>
<circle cx="255.56" cy="302.46" r="2.2" fill="url(#gBody)"/><circle cx="255.06" cy="301.86" r="1.1" fill="url(#gSpec)"/>
<circle cx="257.38" cy="302.63" r="2.2" fill="url(#gBody)"/><circle cx="256.88" cy="302.03" r="1.1" fill="url(#gSpec)"/>
<circle cx="259.19" cy="302.84" r="2.2" fill="url(#gBody)"/><circle cx="258.69" cy="302.24" r="1.1" fill="url(#gSpec)"/>
<circle cx="261" cy="303.09" r="2.2" fill="url(#gBody)"/><circle cx="260.5" cy="302.49" r="1.1" fill="url(#gSpec)"/>
<circle cx="262.81" cy="303.37" r="2.2" fill="url(#gBody)"/><circle cx="262.31" cy="302.77" r="1.1" fill="url(#gSpec)"/>
<circle cx="264.62" cy="303.75" r="2.2" fill="url(#gBody)"/><circle cx="264.12" cy="303.15" r="1.1" fill="url(#gSpec)"/>
<circle cx="266.44" cy="304.29" r="2.2" fill="url(#gBody)"/><circle cx="265.94" cy="303.69" r="1.1" fill="url(#gSpec)"/>
<circle cx="268.25" cy="304.93" r="2.2" fill="url(#gBody)"/><circle cx="267.75" cy="304.33" r="1.1" fill="url(#gSpec)"/>
<circle cx="270.06" cy="305.59" r="2.2" fill="url(#gBody)"/><circle cx="269.56" cy="304.99" r="1.1" fill="url(#gSpec)"/>
<circle cx="271.88" cy="306.3" r="2.2" fill="url(#gBody)"/><circle cx="271.38" cy="305.7" r="1.1" fill="url(#gSpec)"/>
<circle cx="273.69" cy="307.13" r="2.2" fill="url(#gBody)"/><circle cx="273.19" cy="306.53" r="1.1" fill="url(#gSpec)"/>
<circle cx="275.5" cy="308.18" r="2.2" fill="url(#gBody)"/><circle cx="275" cy="307.58" r="1.1" fill="url(#gSpec)"/>
<circle cx="277.31" cy="309.64" r="2.2" fill="url(#gBody)"/><circle cx="276.81" cy="309.04" r="1.1" fill="url(#gSpec)"/>
<circle cx="279.12" cy="311.6" r="2.2" fill="url(#gBody)"/><circle cx="278.62" cy="311" r="1.1" fill="url(#gSpec)"/>
<circle cx="280.94" cy="314.44" r="2.2" fill="url(#gBody)"/><circle cx="280.44" cy="313.84" r="1.1" fill="url(#gSpec)"/>
<circle cx="282.75" cy="319.41" r="2.2" fill="url(#gBody)"/><circle cx="282.25" cy="318.81" r="1.1" fill="url(#gSpec)"/>
<circle cx="284.56" cy="324.79" r="2.2" fill="url(#gBody)"/><circle cx="284.06" cy="324.19" r="1.1" fill="url(#gSpec)"/>
<circle cx="286.38" cy="332.62" r="2.2" fill="url(#gBody)"/><circle cx="285.88" cy="332.02" r="1.1" fill="url(#gSpec)"/>
<circle cx="288.19" cy="341.32" r="2.2" fill="url(#gBody)"/><circle cx="287.69" cy="340.72" r="1.1" fill="url(#gSpec)"/>
<circle cx="290" cy="352.02" r="2.2" fill="url(#gBody)"/><circle cx="289.5" cy="351.42" r="1.1" fill="url(#gSpec)"/>
<circle cx="291.81" cy="367.79" r="2.2" fill="url(#gBody)"/><circle cx="291.31" cy="367.19" r="1.1" fill="url(#gSpec)"/>
<circle cx="293.62" cy="383.63" r="2.2" fill="url(#gBody)"/><circle cx="293.12" cy="383.03" r="1.1" fill="url(#gSpec)"/>
<circle cx="295.44" cy="406.71" r="2.2" fill="url(#gBody)"/><circle cx="294.94" cy="406.11" r="1.1" fill="url(#gSpec)"/>
<circle cx="297.25" cy="428.95" r="2.2" fill="url(#gBody)"/><circle cx="296.75" cy="428.35" r="1.1" fill="url(#gSpec)"/>
</g>
<path d="M86.15 278.2 H305.35 M86.15 453.5 H305.35" stroke="#141010" stroke-width="1.4" fill="none"/>
<path d="M87 278.2 V453.5 M304.5 278.2 V453.5" stroke="#141010" stroke-width="1.7" fill="none"/>
<path d="M87 453.5 v3.4 M105.12 453.5 v2 M123.25 453.5 v3.4 M141.38 453.5 v2 M159.5 453.5 v3.4 M177.62 453.5 v2 M195.75 453.5 v3.4 M213.88 453.5 v2 M232 453.5 v3.4 M250.12 453.5 v2 M268.25 453.5 v3.4 M286.38 453.5 v2 M304.5 453.5 v3.4 M87 453.5 h-3.4 M87 438.89 h-2 M87 424.29 h-3.4 M87 409.68 h-2 M87 395.07 h-3.4 M87 380.46 h-2 M87 365.86 h-3.4 M87 351.25 h-2 M87 336.64 h-3.4 M87 322.03 h-2 M87 307.43 h-3.4 M87 292.82 h-2 M87 278.21 h-3.4" stroke="#141010" stroke-width="1.2" fill="none"/>
<text x="85.92" y="468.6" font-size="10.3" text-anchor="middle" font-weight="normal" fill="#231815"  letter-spacing="0.25">0.0</text>
<text x="122.17" y="468.6" font-size="10.3" text-anchor="middle" font-weight="normal" fill="#231815"  letter-spacing="0.25">0.2</text>
<text x="158.43" y="468.6" font-size="10.3" text-anchor="middle" font-weight="normal" fill="#231815"  letter-spacing="0.25">0.4</text>
<text x="194.68" y="468.6" font-size="10.3" text-anchor="middle" font-weight="normal" fill="#231815"  letter-spacing="0.25">0.6</text>
<text x="230.93" y="468.6" font-size="10.3" text-anchor="middle" font-weight="normal" fill="#231815"  letter-spacing="0.25">0.8</text>
<text x="267.18" y="468.6" font-size="10.3" text-anchor="middle" font-weight="normal" fill="#231815"  letter-spacing="0.25">1.0</text>
<text x="303.43" y="468.6" font-size="10.3" text-anchor="middle" font-weight="normal" fill="#231815"  letter-spacing="0.25">1.2</text>
<text x="78.4" y="457.2" font-size="10.3" text-anchor="end" font-weight="normal" fill="#231815"  letter-spacing="0.2">0</text>
<text x="78.4" y="427.99" font-size="10.3" text-anchor="end" font-weight="normal" fill="#231815"  letter-spacing="0.2">5</text>
<text x="78.4" y="398.77" font-size="10.3" text-anchor="end" font-weight="normal" fill="#231815"  letter-spacing="0.2">10</text>
<text x="78.4" y="369.56" font-size="10.3" text-anchor="end" font-weight="normal" fill="#231815"  letter-spacing="0.2">15</text>
<text x="78.4" y="340.34" font-size="10.3" text-anchor="end" font-weight="normal" fill="#231815"  letter-spacing="0.2">20</text>
<text x="78.4" y="311.12" font-size="10.3" text-anchor="end" font-weight="normal" fill="#231815"  letter-spacing="0.2">25</text>
<text x="78.4" y="281.91" font-size="10.3" text-anchor="end" font-weight="normal" fill="#231815"  letter-spacing="0.2">30</text>
<text x="203" y="481.8" font-size="10.3" text-anchor="middle" font-weight="normal" fill="#231815"  letter-spacing="0.4">Voltage (V)</text>
<text transform="translate(54.2 364.2) rotate(-90)" font-size="10.3" text-anchor="middle" fill="#231815" letter-spacing="0.27">Current density (mA/cm<tspan font-size="6.5" dy="-3.6">2</tspan><tspan dy="3.6">)</tspan></text>
<path d="M110.2 312.7 H134.5" stroke="#4a8fc8" stroke-width="1.1"/>
<circle cx="122.4" cy="312.7" r="1.8" fill="url(#gBody)"/><circle cx="122" cy="312.2" r="0.8" fill="url(#gSpec)"/>
<text x="136.2" y="316.9" font-size="10.3" text-anchor="start" font-weight="normal" fill="#4a8fc8"  letter-spacing="0.35">Based on PVK</text>
<text x="118.38" y="333.8" font-size="10.3" text-anchor="middle" font-weight="normal" fill="#3a3030"  letter-spacing="0.15">Voc</text>
<text x="118.35" y="343.5" font-size="10.3" text-anchor="middle" font-weight="normal" fill="#3a3030"  letter-spacing="1.1">(V)</text>
<text x="164.07" y="333.8" font-size="10.3" text-anchor="middle" font-weight="normal" fill="#3a3030"  letter-spacing="0.15">Isc</text>
<text x="209.47" y="333.8" font-size="10.3" text-anchor="middle" font-weight="normal" fill="#3a3030"  letter-spacing="0.15">FF</text>
<text x="209.45" y="343.5" font-size="10.3" text-anchor="middle" font-weight="normal" fill="#3a3030"  letter-spacing="1.1">(%)</text>
<text x="254.77" y="333.8" font-size="10.3" text-anchor="middle" font-weight="normal" fill="#3a3030"  letter-spacing="0.15">PCE</text>
<text x="254.75" y="343.5" font-size="10.3" text-anchor="middle" font-weight="normal" fill="#3a3030"  letter-spacing="1.1">(%)</text>
<text x="164.1" y="343.5" font-size="10.3" text-anchor="middle" fill="#3a3030" letter-spacing="0.2">(mA/cm<tspan font-size="6.5" dy="-3.6">2</tspan><tspan dy="3.6">)</tspan></text>
<text x="117" y="361.4" font-size="10.3" text-anchor="middle" font-weight="normal" fill="#4a8fc8"  letter-spacing="0.4">1.167</text>
<text x="163.5" y="361.4" font-size="10.3" text-anchor="middle" font-weight="normal" fill="#4a8fc8"  letter-spacing="0.4">26.10</text>
<text x="209.4" y="361.4" font-size="10.3" text-anchor="middle" font-weight="normal" fill="#4a8fc8"  letter-spacing="0.4">84.90</text>
<text x="255.3" y="361.4" font-size="10.3" text-anchor="middle" font-weight="normal" fill="#4a8fc8"  letter-spacing="0.4">25.86</text>
<rect x="129.2" y="372.4" width="149" height="61.6" fill="#fff"/>
<polyline points="129.2,390.33 129.7,386.05 130.19,384.26 130.69,384.4 131.19,384.46 131.68,384.31 132.18,384.24 132.68,384.16 133.17,384.39 133.67,384.39 134.17,384.17 134.66,384.19 135.16,384.08 135.66,384.15 136.15,384.27 136.65,384.3 137.15,384.02 137.64,384.33 138.14,384.41 138.64,384.47 139.13,384.36 139.63,384.38 140.13,384.45 140.62,384.45 141.12,384.44 141.62,384.42 142.11,384.4 142.61,384.51 143.11,384.74 143.6,384.49 144.1,384.73 144.6,384.6 145.09,384.75 145.59,384.59 146.09,384.67 146.58,384.56 147.08,384.23 147.58,384.57 148.07,384.46 148.57,384.67 149.07,384.54 149.56,384.42 150.06,384.48 150.56,384.4 151.05,384.41 151.55,384.5 152.05,384.31 152.54,384.43 153.04,384.13 153.54,384.36 154.03,384.21 154.53,384.27 155.03,384.16 155.52,384.31 156.02,384.14 156.52,384.26 157.01,384.11 157.51,384.18 158.01,384.24 158.5,384.35 159,384.21 159.5,384.25 159.99,384.15 160.49,384.39 160.99,384.31 161.48,384.34 161.98,384.39 162.48,384.42 162.97,384.45 163.47,384.55 163.97,384.62 164.46,384.58 164.96,384.49 165.46,384.41 165.95,384.48 166.45,384.48 166.95,384.51 167.44,384.52 167.94,384.57 168.44,384.51 168.93,384.39 169.43,384.6 169.93,384.62 170.42,384.33 170.92,384.49 171.42,384.39 171.91,384.38 172.41,384.56 172.91,384.16 173.4,384.21 173.9,384.35 174.4,384.27 174.89,384.31 175.39,384.4 175.89,384.3 176.38,384.23 176.88,384.14 177.38,384.18 177.87,384.24 178.37,384.1 178.87,384.33 179.36,384.17 179.86,384.14 180.36,384.3 180.85,384.47 181.35,384.4 181.85,384.3 182.34,384.29 182.84,384.21 183.34,384.5 183.83,384.42 184.33,384.38 184.83,384.49 185.32,384.74 185.82,384.43 186.32,384.29 186.81,384.45 187.31,384.66 187.81,384.62 188.3,384.56 188.8,384.33 189.3,384.53 189.79,384.58 190.29,384.42 190.79,384.59 191.28,384.37 191.78,384.62 192.28,384.58 192.77,384.44 193.27,384.34 193.77,384.4 194.26,384.41 194.76,384.61 195.26,384.47 195.75,384.43 196.25,384.4 196.75,384.26 197.24,384.34 197.74,384.2 198.24,384.26 198.73,384.29 199.23,384.24 199.73,384.2 200.22,384.15 200.72,384.3 201.22,384.28 201.71,384.4 202.21,384.1 202.71,384.13 203.2,384.32 203.7,384.38 204.2,384.48 204.69,384.35 205.19,384.37 205.69,384.19 206.18,384.42 206.68,384.55 207.18,384.75 207.67,384.37 208.17,384.51 208.67,384.72 209.16,384.55 209.66,384.75 210.16,384.22 210.65,384.47 211.15,384.53 211.65,384.61 212.14,384.81 212.64,384.59 213.14,384.73 213.63,384.49 214.13,384.76 214.63,384.61 215.12,384.36 215.62,384.29 216.12,384.57 216.61,384.58 217.11,384.3 217.61,384.28 218.1,384.45 218.6,384.4 219.1,384.38 219.59,384.41 220.09,384.34 220.59,384.13 221.08,384.18 221.58,384.03 222.08,384.25 222.57,384.26 223.07,384.35 223.57,384.27 224.06,384.41 224.56,384.47 225.06,384.23 225.55,384.17 226.05,384.26 226.55,384.23 227.04,384.37 227.54,384.5 228.04,384.44 228.53,384.51 229.03,384.61 229.53,384.69 230.02,384.69 230.52,384.55 231.02,384.55 231.51,384.63 232.01,384.44 232.51,384.57 233,384.53 233.5,384.46 234,384.67 234.49,384.78 234.99,384.49 235.49,384.62 235.98,384.39 236.48,384.48 236.98,384.38 237.47,384.39 237.97,384.66 238.47,384.34 238.96,384.46 239.46,384.45 239.96,384.39 240.45,384.24 240.95,384.21 241.45,384.18 241.94,384.44 242.44,384.32 242.94,384.5 243.43,384.26 243.93,384.18 244.43,384.33 244.92,384.23 245.42,384.24 245.92,384.17 246.41,384.37 246.91,384.39 247.41,384.41 247.9,384.16 248.4,384.26 248.9,384.41 249.39,384.4 249.89,384.43 250.39,384.45 250.88,384.52 251.38,384.55 251.88,384.67 252.37,384.87 252.87,385.08 253.37,385.67 253.86,386.13 254.36,386.44 254.86,386.51 255.35,386.38 255.85,386.21 256.35,385.7 256.84,385.22 257.34,384.88 257.84,384.61 258.33,384.62 258.83,384.6 259.33,384.37 259.82,384.69 260.32,384.44 260.82,384.46 261.31,384.43 261.81,384.33 262.31,384.2 262.8,384.29 263.3,384.3 263.8,384.33 264.29,384.27 264.79,384.15 265.29,384.29 265.78,384.36 266.28,384.38 266.78,384.37 267.27,384.41 267.77,384.16 268.27,384.25 268.76,384.33 269.26,384.17 269.76,384.42 270.25,384.29 270.75,384.31 271.25,384.58 271.74,384.61 272.24,384.57 272.74,384.4 273.23,384.38 273.73,384.66 274.23,384.44 274.72,384.61 275.22,384.62 275.72,384.65 276.21,384.63 276.71,384.78 277.21,384.7 277.7,384.72 278.2,384.52" fill="none" stroke="#74acda" stroke-width="2.9" stroke-linejoin="round"/>
<polyline points="129.2,390.33 129.7,386.05 130.19,384.26 130.69,384.4 131.19,384.46 131.68,384.31 132.18,384.24 132.68,384.16 133.17,384.39 133.67,384.39 134.17,384.17 134.66,384.19 135.16,384.08 135.66,384.15 136.15,384.27 136.65,384.3 137.15,384.02 137.64,384.33 138.14,384.41 138.64,384.47 139.13,384.36 139.63,384.38 140.13,384.45 140.62,384.45 141.12,384.44 141.62,384.42 142.11,384.4 142.61,384.51 143.11,384.74 143.6,384.49 144.1,384.73 144.6,384.6 145.09,384.75 145.59,384.59 146.09,384.67 146.58,384.56 147.08,384.23 147.58,384.57 148.07,384.46 148.57,384.67 149.07,384.54 149.56,384.42 150.06,384.48 150.56,384.4 151.05,384.41 151.55,384.5 152.05,384.31 152.54,384.43 153.04,384.13 153.54,384.36 154.03,384.21 154.53,384.27 155.03,384.16 155.52,384.31 156.02,384.14 156.52,384.26 157.01,384.11 157.51,384.18 158.01,384.24 158.5,384.35 159,384.21 159.5,384.25 159.99,384.15 160.49,384.39 160.99,384.31 161.48,384.34 161.98,384.39 162.48,384.42 162.97,384.45 163.47,384.55 163.97,384.62 164.46,384.58 164.96,384.49 165.46,384.41 165.95,384.48 166.45,384.48 166.95,384.51 167.44,384.52 167.94,384.57 168.44,384.51 168.93,384.39 169.43,384.6 169.93,384.62 170.42,384.33 170.92,384.49 171.42,384.39 171.91,384.38 172.41,384.56 172.91,384.16 173.4,384.21 173.9,384.35 174.4,384.27 174.89,384.31 175.39,384.4 175.89,384.3 176.38,384.23 176.88,384.14 177.38,384.18 177.87,384.24 178.37,384.1 178.87,384.33 179.36,384.17 179.86,384.14 180.36,384.3 180.85,384.47 181.35,384.4 181.85,384.3 182.34,384.29 182.84,384.21 183.34,384.5 183.83,384.42 184.33,384.38 184.83,384.49 185.32,384.74 185.82,384.43 186.32,384.29 186.81,384.45 187.31,384.66 187.81,384.62 188.3,384.56 188.8,384.33 189.3,384.53 189.79,384.58 190.29,384.42 190.79,384.59 191.28,384.37 191.78,384.62 192.28,384.58 192.77,384.44 193.27,384.34 193.77,384.4 194.26,384.41 194.76,384.61 195.26,384.47 195.75,384.43 196.25,384.4 196.75,384.26 197.24,384.34 197.74,384.2 198.24,384.26 198.73,384.29 199.23,384.24 199.73,384.2 200.22,384.15 200.72,384.3 201.22,384.28 201.71,384.4 202.21,384.1 202.71,384.13 203.2,384.32 203.7,384.38 204.2,384.48 204.69,384.35 205.19,384.37 205.69,384.19 206.18,384.42 206.68,384.55 207.18,384.75 207.67,384.37 208.17,384.51 208.67,384.72 209.16,384.55 209.66,384.75 210.16,384.22 210.65,384.47 211.15,384.53 211.65,384.61 212.14,384.81 212.64,384.59 213.14,384.73 213.63,384.49 214.13,384.76 214.63,384.61 215.12,384.36 215.62,384.29 216.12,384.57 216.61,384.58 217.11,384.3 217.61,384.28 218.1,384.45 218.6,384.4 219.1,384.38 219.59,384.41 220.09,384.34 220.59,384.13 221.08,384.18 221.58,384.03 222.08,384.25 222.57,384.26 223.07,384.35 223.57,384.27 224.06,384.41 224.56,384.47 225.06,384.23 225.55,384.17 226.05,384.26 226.55,384.23 227.04,384.37 227.54,384.5 228.04,384.44 228.53,384.51 229.03,384.61 229.53,384.69 230.02,384.69 230.52,384.55 231.02,384.55 231.51,384.63 232.01,384.44 232.51,384.57 233,384.53 233.5,384.46 234,384.67 234.49,384.78 234.99,384.49 235.49,384.62 235.98,384.39 236.48,384.48 236.98,384.38 237.47,384.39 237.97,384.66 238.47,384.34 238.96,384.46 239.46,384.45 239.96,384.39 240.45,384.24 240.95,384.21 241.45,384.18 241.94,384.44 242.44,384.32 242.94,384.5 243.43,384.26 243.93,384.18 244.43,384.33 244.92,384.23 245.42,384.24 245.92,384.17 246.41,384.37 246.91,384.39 247.41,384.41 247.9,384.16 248.4,384.26 248.9,384.41 249.39,384.4 249.89,384.43 250.39,384.45 250.88,384.52 251.38,384.55 251.88,384.67 252.37,384.87 252.87,385.08 253.37,385.67 253.86,386.13 254.36,386.44 254.86,386.51 255.35,386.38 255.85,386.21 256.35,385.7 256.84,385.22 257.34,384.88 257.84,384.61 258.33,384.62 258.83,384.6 259.33,384.37 259.82,384.69 260.32,384.44 260.82,384.46 261.31,384.43 261.81,384.33 262.31,384.2 262.8,384.29 263.3,384.3 263.8,384.33 264.29,384.27 264.79,384.15 265.29,384.29 265.78,384.36 266.28,384.38 266.78,384.37 267.27,384.41 267.77,384.16 268.27,384.25 268.76,384.33 269.26,384.17 269.76,384.42 270.25,384.29 270.75,384.31 271.25,384.58 271.74,384.61 272.24,384.57 272.74,384.4 273.23,384.38 273.73,384.66 274.23,384.44 274.72,384.61 275.22,384.62 275.72,384.65 276.21,384.63 276.71,384.78 277.21,384.7 277.7,384.72 278.2,384.52" fill="none" stroke="#a8cbea" stroke-width="0.7" stroke-dasharray="1 1.5"/>
<path d="M128.45 372.4 H278.95 M128.45 434 H278.95" stroke="#2e2424" stroke-width="1.3" fill="none"/>
<path d="M129.2 372.4 V434 M278.2 372.4 V434" stroke="#2e2424" stroke-width="1.5" fill="none"/>
<path d="M129.2 434 v2 M154.03 434 v2 M178.87 434 v2 M203.7 434 v2 M228.53 434 v2 M253.37 434 v2 M278.2 434 v2 M129.2 390.2 h-2 M129.2 434 h-2" stroke="#141010" stroke-width="1.2"/>
<text x="125.1" y="394.1" font-size="10.3" text-anchor="end" font-weight="normal" fill="#231815"  letter-spacing="0.2">25</text>
<text x="125.1" y="437.6" font-size="10.3" text-anchor="end" font-weight="normal" fill="#231815"  letter-spacing="0.2">20</text>
<text x="129.2" y="447.1" font-size="10.3" text-anchor="middle" font-weight="normal" fill="#231815" >0</text>
<text x="205.7" y="447.1" font-size="10.3" text-anchor="middle" font-weight="normal" fill="#231815"  letter-spacing="0.2">150</text>
<text x="278.6" y="447.1" font-size="10.3" text-anchor="middle" font-weight="normal" fill="#231815"  letter-spacing="0.2">300</text>
<text transform="translate(107.6 406.4) rotate(-90)" font-size="10.3" text-anchor="middle" fill="#231815" letter-spacing="0.4">PCE (%)</text>
<text x="234.45" y="414" font-size="10.3" text-anchor="middle" font-weight="bold" fill="#4a8fc8"  letter-spacing="0.1">25.70%</text>
<path d="M165.8 423.5 C161.3 416 160.6 405.5 163.3 399.2 C164.9 395.6 168 394.1 172 394 C175.6 394 178.8 395.2 181.2 396.8 L178.6 401.6 C175.4 401.8 172.2 402.6 170.3 405 C168.7 407.5 167.3 412 166.7 416 C166.3 419 166 421.5 165.8 423.5 Z" fill="#17589f"/>
<path d="M175.5 394.7 C180.5 396 184.8 399.4 188.5 403.8 M176 397.4 C180.2 398.4 183.8 400.6 186.6 404.1 M175.6 399.7 C179 400.3 181.6 401.8 183.6 404.5 M174.8 401.7 C176.8 402 178.6 402.9 180 404.6" stroke="#17589f" stroke-width="1.05" fill="none"/>
<path d="M163.2 404.5 C162.9 410 163.6 415.5 165 420.5 M165.2 404 C164.8 409.5 165.2 414.5 165.9 419" stroke="#fff" stroke-width="0.35" fill="none" opacity="0.6"/>
<text x="168.9" y="418.8" font-size="11" font-weight="bold" font-style="italic" fill="#17589f" letter-spacing="-0.35">S<tspan font-size="9.2">iMIT</tspan></text>
<text x="409.8" y="275.9" font-size="21.3" text-anchor="start" font-weight="bold" fill="#231815" >d</text>
<path d="M485.6 287.1 V306.3 M485.6 325.3 V340.6 M476.9 287.1 h17.4 M476.9 340.6 h17.4" stroke="#3c3c3c" stroke-width="1" fill="none"/>
<rect x="468" y="306.3" width="35.2" height="19" fill="#6fa5d2" stroke="#2f353b" stroke-width="1"/>
<path d="M468 319.2 h35.2" stroke="#2f3a44" stroke-width="1.2"/>
<rect x="484.5" y="314.1" width="2.2" height="2.2" fill="none" stroke="#555" stroke-width="0.5"/>
<circle cx="489" cy="287" r="2.9" fill="url(#gBody)"/><circle cx="488.1" cy="286.1" r="1.45" fill="url(#gSpec)"/><circle cx="488.1" cy="286.1" r="0.6" fill="#fff"/>
<circle cx="485.7" cy="289.1" r="2.9" fill="url(#gBody)"/><circle cx="484.8" cy="288.2" r="1.45" fill="url(#gSpec)"/><circle cx="484.8" cy="288.2" r="0.6" fill="#fff"/>
<circle cx="482.2" cy="294.5" r="2.9" fill="url(#gBody)"/><circle cx="481.3" cy="293.6" r="1.45" fill="url(#gSpec)"/><circle cx="481.3" cy="293.6" r="0.6" fill="#fff"/>
<circle cx="498.3" cy="295.9" r="2.9" fill="url(#gBody)"/><circle cx="497.4" cy="295" r="1.45" fill="url(#gSpec)"/><circle cx="497.4" cy="295" r="0.6" fill="#fff"/>
<circle cx="485.8" cy="302.2" r="2.9" fill="url(#gBody)"/><circle cx="484.9" cy="301.3" r="1.45" fill="url(#gSpec)"/><circle cx="484.9" cy="301.3" r="0.6" fill="#fff"/>
<circle cx="469.4" cy="310.4" r="2.9" fill="url(#gBody)"/><circle cx="468.5" cy="309.5" r="1.45" fill="url(#gSpec)"/><circle cx="468.5" cy="309.5" r="0.6" fill="#fff"/>
<circle cx="472.3" cy="312.9" r="2.9" fill="url(#gBody)"/><circle cx="471.4" cy="312" r="1.45" fill="url(#gSpec)"/><circle cx="471.4" cy="312" r="0.6" fill="#fff"/>
<circle cx="478.9" cy="313.3" r="2.9" fill="url(#gBody)"/><circle cx="478" cy="312.4" r="1.45" fill="url(#gSpec)"/><circle cx="478" cy="312.4" r="0.6" fill="#fff"/>
<circle cx="481.8" cy="310.2" r="2.9" fill="url(#gBody)"/><circle cx="480.9" cy="309.3" r="1.45" fill="url(#gSpec)"/><circle cx="480.9" cy="309.3" r="0.6" fill="#fff"/>
<circle cx="475.2" cy="321.6" r="2.9" fill="url(#gBody)"/><circle cx="474.3" cy="320.7" r="1.45" fill="url(#gSpec)"/><circle cx="474.3" cy="320.7" r="0.6" fill="#fff"/>
<circle cx="477.3" cy="325.5" r="2.9" fill="url(#gBody)"/><circle cx="476.4" cy="324.6" r="1.45" fill="url(#gSpec)"/><circle cx="476.4" cy="324.6" r="0.6" fill="#fff"/>
<circle cx="483.1" cy="324.4" r="2.9" fill="url(#gBody)"/><circle cx="482.2" cy="323.5" r="1.45" fill="url(#gSpec)"/><circle cx="482.2" cy="323.5" r="0.6" fill="#fff"/>
<circle cx="488" cy="321.1" r="2.9" fill="url(#gBody)"/><circle cx="487.1" cy="320.2" r="1.45" fill="url(#gSpec)"/><circle cx="487.1" cy="320.2" r="0.6" fill="#fff"/>
<circle cx="490.9" cy="319.5" r="2.9" fill="url(#gBody)"/><circle cx="490" cy="318.6" r="1.45" fill="url(#gSpec)"/><circle cx="490" cy="318.6" r="0.6" fill="#fff"/>
<circle cx="494.6" cy="319.1" r="2.9" fill="url(#gBody)"/><circle cx="493.7" cy="318.2" r="1.45" fill="url(#gSpec)"/><circle cx="493.7" cy="318.2" r="0.6" fill="#fff"/>
<circle cx="501.7" cy="318.7" r="2.9" fill="url(#gBody)"/><circle cx="500.8" cy="317.8" r="1.45" fill="url(#gSpec)"/><circle cx="500.8" cy="317.8" r="0.6" fill="#fff"/>
<circle cx="486.4" cy="328.6" r="2.9" fill="url(#gBody)"/><circle cx="485.5" cy="327.7" r="1.45" fill="url(#gSpec)"/><circle cx="485.5" cy="327.7" r="0.6" fill="#fff"/>
<circle cx="489.7" cy="330.2" r="2.9" fill="url(#gBody)"/><circle cx="488.8" cy="329.3" r="1.45" fill="url(#gSpec)"/><circle cx="488.8" cy="329.3" r="0.6" fill="#fff"/>
<circle cx="493.4" cy="332.3" r="2.9" fill="url(#gBody)"/><circle cx="492.5" cy="331.4" r="1.45" fill="url(#gSpec)"/><circle cx="492.5" cy="331.4" r="0.6" fill="#fff"/>
<circle cx="480.6" cy="341" r="2.9" fill="url(#gBody)"/><circle cx="479.7" cy="340.1" r="1.45" fill="url(#gSpec)"/><circle cx="479.7" cy="340.1" r="0.6" fill="#fff"/>
<path d="M540.5 379.5 V386 M540.5 418.2 V432.3 M531.8 379.5 h17.4 M531.8 432.3 h17.4" stroke="#3c3c3c" stroke-width="1" fill="none"/>
<rect x="522.9" y="386" width="35.2" height="32.2" fill="#6fa5d2" stroke="#2f353b" stroke-width="1"/>
<path d="M522.9 401.2 h35.2" stroke="#2f3a44" stroke-width="1.2"/>
<rect x="539.4" y="401.4" width="2.2" height="2.2" fill="none" stroke="#555" stroke-width="0.5"/>
<circle cx="546" cy="380" r="2.9" fill="url(#gBody)"/><circle cx="545.1" cy="379.1" r="1.45" fill="url(#gSpec)"/><circle cx="545.1" cy="379.1" r="0.6" fill="#fff"/>
<circle cx="549.1" cy="379.5" r="2.9" fill="url(#gBody)"/><circle cx="548.2" cy="378.6" r="1.45" fill="url(#gSpec)"/><circle cx="548.2" cy="378.6" r="0.6" fill="#fff"/>
<circle cx="552.2" cy="379.5" r="2.9" fill="url(#gBody)"/><circle cx="551.3" cy="378.6" r="1.45" fill="url(#gSpec)"/><circle cx="551.3" cy="378.6" r="0.6" fill="#fff"/>
<circle cx="555.8" cy="380" r="2.9" fill="url(#gBody)"/><circle cx="554.9" cy="379.1" r="1.45" fill="url(#gSpec)"/><circle cx="554.9" cy="379.1" r="0.6" fill="#fff"/>
<circle cx="531" cy="384.7" r="2.9" fill="url(#gBody)"/><circle cx="530.1" cy="383.8" r="1.45" fill="url(#gSpec)"/><circle cx="530.1" cy="383.8" r="0.6" fill="#fff"/>
<circle cx="527.4" cy="386.7" r="2.9" fill="url(#gBody)"/><circle cx="526.5" cy="385.8" r="1.45" fill="url(#gSpec)"/><circle cx="526.5" cy="385.8" r="0.6" fill="#fff"/>
<circle cx="524.3" cy="390" r="2.9" fill="url(#gBody)"/><circle cx="523.4" cy="389.1" r="1.45" fill="url(#gSpec)"/><circle cx="523.4" cy="389.1" r="0.6" fill="#fff"/>
<circle cx="537.2" cy="389.8" r="2.9" fill="url(#gBody)"/><circle cx="536.3" cy="388.9" r="1.45" fill="url(#gSpec)"/><circle cx="536.3" cy="388.9" r="0.6" fill="#fff"/>
<circle cx="533.6" cy="400.2" r="2.9" fill="url(#gBody)"/><circle cx="532.7" cy="399.3" r="1.45" fill="url(#gSpec)"/><circle cx="532.7" cy="399.3" r="0.6" fill="#fff"/>
<circle cx="543.4" cy="399.7" r="2.9" fill="url(#gBody)"/><circle cx="542.5" cy="398.8" r="1.45" fill="url(#gSpec)"/><circle cx="542.5" cy="398.8" r="0.6" fill="#fff"/>
<circle cx="540.6" cy="403.5" r="2.9" fill="url(#gBody)"/><circle cx="539.7" cy="402.6" r="1.45" fill="url(#gSpec)"/><circle cx="539.7" cy="402.6" r="0.6" fill="#fff"/>
<circle cx="551.8" cy="406" r="2.9" fill="url(#gBody)"/><circle cx="550.9" cy="405.1" r="1.45" fill="url(#gSpec)"/><circle cx="550.9" cy="405.1" r="0.6" fill="#fff"/>
<circle cx="535.7" cy="408.9" r="2.9" fill="url(#gBody)"/><circle cx="534.8" cy="408" r="1.45" fill="url(#gSpec)"/><circle cx="534.8" cy="408" r="0.6" fill="#fff"/>
<circle cx="532.4" cy="416.7" r="2.9" fill="url(#gBody)"/><circle cx="531.5" cy="415.8" r="1.45" fill="url(#gSpec)"/><circle cx="531.5" cy="415.8" r="0.6" fill="#fff"/>
<circle cx="539" cy="416.7" r="2.9" fill="url(#gBody)"/><circle cx="538.1" cy="415.8" r="1.45" fill="url(#gSpec)"/><circle cx="538.1" cy="415.8" r="0.6" fill="#fff"/>
<circle cx="542.3" cy="419.6" r="2.9" fill="url(#gBody)"/><circle cx="541.4" cy="418.7" r="1.45" fill="url(#gSpec)"/><circle cx="541.4" cy="418.7" r="0.6" fill="#fff"/>
<circle cx="548.5" cy="422.5" r="2.9" fill="url(#gBody)"/><circle cx="547.6" cy="421.6" r="1.45" fill="url(#gSpec)"/><circle cx="547.6" cy="421.6" r="0.6" fill="#fff"/>
<circle cx="529.5" cy="426" r="2.9" fill="url(#gBody)"/><circle cx="528.6" cy="425.1" r="1.45" fill="url(#gSpec)"/><circle cx="528.6" cy="425.1" r="0.6" fill="#fff"/>
<circle cx="545.2" cy="427.1" r="2.9" fill="url(#gBody)"/><circle cx="544.3" cy="426.2" r="1.45" fill="url(#gSpec)"/><circle cx="544.3" cy="426.2" r="0.6" fill="#fff"/>
<circle cx="540.6" cy="432.4" r="2.9" fill="url(#gBody)"/><circle cx="539.7" cy="431.5" r="1.45" fill="url(#gSpec)"/><circle cx="539.7" cy="431.5" r="0.6" fill="#fff"/>
<path d="M595.4 392.3 V401.6 M595.4 432.6 V447.3 M586.7 392.3 h17.4 M586.7 447.3 h17.4" stroke="#3c3c3c" stroke-width="1" fill="none"/>
<rect x="577.8" y="401.6" width="35.2" height="31" fill="#6fa5d2" stroke="#2f353b" stroke-width="1"/>
<path d="M577.8 420 h35.2" stroke="#2f3a44" stroke-width="1.2"/>
<rect x="594.3" y="418.1" width="2.2" height="2.2" fill="none" stroke="#555" stroke-width="0.5"/>
<circle cx="586" cy="394" r="2.9" fill="url(#gBody)"/><circle cx="585.1" cy="393.1" r="1.45" fill="url(#gSpec)"/><circle cx="585.1" cy="393.1" r="0.6" fill="#fff"/>
<circle cx="601.6" cy="392.7" r="2.9" fill="url(#gBody)"/><circle cx="600.7" cy="391.8" r="1.45" fill="url(#gSpec)"/><circle cx="600.7" cy="391.8" r="0.6" fill="#fff"/>
<circle cx="593.4" cy="398.8" r="2.9" fill="url(#gBody)"/><circle cx="592.5" cy="397.9" r="1.45" fill="url(#gSpec)"/><circle cx="592.5" cy="397.9" r="0.6" fill="#fff"/>
<circle cx="597.6" cy="399.3" r="2.9" fill="url(#gBody)"/><circle cx="596.7" cy="398.4" r="1.45" fill="url(#gSpec)"/><circle cx="596.7" cy="398.4" r="0.6" fill="#fff"/>
<circle cx="589.7" cy="403" r="2.9" fill="url(#gBody)"/><circle cx="588.8" cy="402.1" r="1.45" fill="url(#gSpec)"/><circle cx="588.8" cy="402.1" r="0.6" fill="#fff"/>
<circle cx="605.3" cy="400.2" r="2.9" fill="url(#gBody)"/><circle cx="604.4" cy="399.3" r="1.45" fill="url(#gSpec)"/><circle cx="604.4" cy="399.3" r="0.6" fill="#fff"/>
<circle cx="607.1" cy="409.8" r="2.9" fill="url(#gBody)"/><circle cx="606.2" cy="408.9" r="1.45" fill="url(#gSpec)"/><circle cx="606.2" cy="408.9" r="0.6" fill="#fff"/>
<circle cx="587.6" cy="415.2" r="2.9" fill="url(#gBody)"/><circle cx="586.7" cy="414.3" r="1.45" fill="url(#gSpec)"/><circle cx="586.7" cy="414.3" r="0.6" fill="#fff"/>
<circle cx="599" cy="416" r="2.9" fill="url(#gBody)"/><circle cx="598.1" cy="415.1" r="1.45" fill="url(#gSpec)"/><circle cx="598.1" cy="415.1" r="0.6" fill="#fff"/>
<circle cx="591.5" cy="418.4" r="2.9" fill="url(#gBody)"/><circle cx="590.6" cy="417.5" r="1.45" fill="url(#gSpec)"/><circle cx="590.6" cy="417.5" r="0.6" fill="#fff"/>
<circle cx="603.1" cy="421.6" r="2.9" fill="url(#gBody)"/><circle cx="602.2" cy="420.7" r="1.45" fill="url(#gSpec)"/><circle cx="602.2" cy="420.7" r="0.6" fill="#fff"/>
<circle cx="583.6" cy="424" r="2.9" fill="url(#gBody)"/><circle cx="582.7" cy="423.1" r="1.45" fill="url(#gSpec)"/><circle cx="582.7" cy="423.1" r="0.6" fill="#fff"/>
<circle cx="610.8" cy="426.4" r="2.9" fill="url(#gBody)"/><circle cx="609.9" cy="425.5" r="1.45" fill="url(#gSpec)"/><circle cx="609.9" cy="425.5" r="0.6" fill="#fff"/>
<circle cx="579.4" cy="431.3" r="2.9" fill="url(#gBody)"/><circle cx="578.5" cy="430.4" r="1.45" fill="url(#gSpec)"/><circle cx="578.5" cy="430.4" r="0.6" fill="#fff"/>
<circle cx="595.1" cy="430.9" r="2.9" fill="url(#gBody)"/><circle cx="594.2" cy="430" r="1.45" fill="url(#gSpec)"/><circle cx="594.2" cy="430" r="0.6" fill="#fff"/>
<circle cx="591.4" cy="435.9" r="2.9" fill="url(#gBody)"/><circle cx="590.5" cy="435" r="1.45" fill="url(#gSpec)"/><circle cx="590.5" cy="435" r="0.6" fill="#fff"/>
<circle cx="598.9" cy="435" r="2.9" fill="url(#gBody)"/><circle cx="598" cy="434.1" r="1.45" fill="url(#gSpec)"/><circle cx="598" cy="434.1" r="0.6" fill="#fff"/>
<circle cx="595.6" cy="438.8" r="2.9" fill="url(#gBody)"/><circle cx="594.7" cy="437.9" r="1.45" fill="url(#gSpec)"/><circle cx="594.7" cy="437.9" r="0.6" fill="#fff"/>
<circle cx="587.3" cy="445.9" r="2.9" fill="url(#gBody)"/><circle cx="586.4" cy="445" r="1.45" fill="url(#gSpec)"/><circle cx="586.4" cy="445" r="0.6" fill="#fff"/>
<circle cx="603" cy="447.8" r="2.9" fill="url(#gBody)"/><circle cx="602.1" cy="446.9" r="1.45" fill="url(#gSpec)"/><circle cx="602.1" cy="446.9" r="0.6" fill="#fff"/>
<path d="M650.2 353.1 V366.4 M650.2 398.4 V411.6 M641.5 353.1 h17.4 M641.5 411.6 h17.4" stroke="#3c3c3c" stroke-width="1" fill="none"/>
<rect x="632.6" y="366.4" width="35.2" height="32" fill="#6fa5d2" stroke="#2f353b" stroke-width="1"/>
<path d="M632.6 378.2 h35.2" stroke="#2f3a44" stroke-width="1.2"/>
<rect x="649.1" y="379.9" width="2.2" height="2.2" fill="none" stroke="#555" stroke-width="0.5"/>
<circle cx="634.8" cy="356.4" r="2.9" fill="url(#gBody)"/><circle cx="633.9" cy="355.5" r="1.45" fill="url(#gSpec)"/><circle cx="633.9" cy="355.5" r="0.6" fill="#fff"/>
<circle cx="662.1" cy="353.3" r="2.9" fill="url(#gBody)"/><circle cx="661.2" cy="352.4" r="1.45" fill="url(#gSpec)"/><circle cx="661.2" cy="352.4" r="0.6" fill="#fff"/>
<circle cx="654.4" cy="358.1" r="2.9" fill="url(#gBody)"/><circle cx="653.5" cy="357.2" r="1.45" fill="url(#gSpec)"/><circle cx="653.5" cy="357.2" r="0.6" fill="#fff"/>
<circle cx="642.5" cy="364" r="2.9" fill="url(#gBody)"/><circle cx="641.6" cy="363.1" r="1.45" fill="url(#gSpec)"/><circle cx="641.6" cy="363.1" r="0.6" fill="#fff"/>
<circle cx="658" cy="365.3" r="2.9" fill="url(#gBody)"/><circle cx="657.1" cy="364.4" r="1.45" fill="url(#gSpec)"/><circle cx="657.1" cy="364.4" r="0.6" fill="#fff"/>
<circle cx="650.3" cy="367.7" r="2.9" fill="url(#gBody)"/><circle cx="649.4" cy="366.8" r="1.45" fill="url(#gSpec)"/><circle cx="649.4" cy="366.8" r="0.6" fill="#fff"/>
<circle cx="638.4" cy="369.5" r="2.9" fill="url(#gBody)"/><circle cx="637.5" cy="368.6" r="1.45" fill="url(#gSpec)"/><circle cx="637.5" cy="368.6" r="0.6" fill="#fff"/>
<circle cx="665.8" cy="372.6" r="2.9" fill="url(#gBody)"/><circle cx="664.9" cy="371.7" r="1.45" fill="url(#gSpec)"/><circle cx="664.9" cy="371.7" r="0.6" fill="#fff"/>
<circle cx="646.4" cy="373.9" r="2.9" fill="url(#gBody)"/><circle cx="645.5" cy="373" r="1.45" fill="url(#gSpec)"/><circle cx="645.5" cy="373" r="0.6" fill="#fff"/>
<circle cx="640.5" cy="379.3" r="2.9" fill="url(#gBody)"/><circle cx="639.6" cy="378.4" r="1.45" fill="url(#gSpec)"/><circle cx="639.6" cy="378.4" r="0.6" fill="#fff"/>
<circle cx="652.3" cy="378.4" r="2.9" fill="url(#gBody)"/><circle cx="651.4" cy="377.5" r="1.45" fill="url(#gSpec)"/><circle cx="651.4" cy="377.5" r="0.6" fill="#fff"/>
<circle cx="660.1" cy="377.7" r="2.9" fill="url(#gBody)"/><circle cx="659.2" cy="376.8" r="1.45" fill="url(#gSpec)"/><circle cx="659.2" cy="376.8" r="0.6" fill="#fff"/>
<circle cx="644.6" cy="387.5" r="2.9" fill="url(#gBody)"/><circle cx="643.7" cy="386.6" r="1.45" fill="url(#gSpec)"/><circle cx="643.7" cy="386.6" r="0.6" fill="#fff"/>
<circle cx="648.2" cy="386.5" r="2.9" fill="url(#gBody)"/><circle cx="647.3" cy="385.6" r="1.45" fill="url(#gSpec)"/><circle cx="647.3" cy="385.6" r="0.6" fill="#fff"/>
<circle cx="656" cy="390.6" r="2.9" fill="url(#gBody)"/><circle cx="655.1" cy="389.7" r="1.45" fill="url(#gSpec)"/><circle cx="655.1" cy="389.7" r="0.6" fill="#fff"/>
<circle cx="642.5" cy="410.6" r="2.9" fill="url(#gBody)"/><circle cx="641.6" cy="409.7" r="1.45" fill="url(#gSpec)"/><circle cx="641.6" cy="409.7" r="0.6" fill="#fff"/>
<circle cx="646.3" cy="409.2" r="2.9" fill="url(#gBody)"/><circle cx="645.4" cy="408.3" r="1.45" fill="url(#gSpec)"/><circle cx="645.4" cy="408.3" r="0.6" fill="#fff"/>
<circle cx="650" cy="406.3" r="2.9" fill="url(#gBody)"/><circle cx="649.1" cy="405.4" r="1.45" fill="url(#gSpec)"/><circle cx="649.1" cy="405.4" r="0.6" fill="#fff"/>
<circle cx="654.1" cy="407.1" r="2.9" fill="url(#gBody)"/><circle cx="653.2" cy="406.2" r="1.45" fill="url(#gSpec)"/><circle cx="653.2" cy="406.2" r="0.6" fill="#fff"/>
<circle cx="658.3" cy="412" r="2.9" fill="url(#gBody)"/><circle cx="657.4" cy="411.1" r="1.45" fill="url(#gSpec)"/><circle cx="657.4" cy="411.1" r="0.6" fill="#fff"/>
<path d="M457.15 281.7 H678.55 M457.15 458.2 H678.55" stroke="#141010" stroke-width="1.4" fill="none"/>
<path d="M458 281.7 V458.2 M677.7 281.7 V458.2" stroke="#141010" stroke-width="1.7" fill="none"/>
<path d="M458 458.2 h-3.4 M458 444.65 h-2 M458 431.1 h-3.4 M458 417.55 h-2 M458 404 h-3.4 M458 390.45 h-2 M458 376.9 h-3.4 M458 363.35 h-2 M458 349.8 h-3.4 M458 336.25 h-2 M458 322.7 h-3.4 M458 309.15 h-2 M458 295.6 h-3.4 M458 282.05 h-2 M485.4 458.2 v3.4 M540.5 458.2 v3.4 M595.4 458.2 v3.4 M650.3 458.2 v3.4" stroke="#141010" stroke-width="1.2"/>
<text x="450" y="461.9" font-size="10.3" text-anchor="end" font-weight="normal" fill="#231815" >24.6</text>
<text x="450" y="434.8" font-size="10.3" text-anchor="end" font-weight="normal" fill="#231815" >24.8</text>
<text x="450" y="407.7" font-size="10.3" text-anchor="end" font-weight="normal" fill="#231815" >25.0</text>
<text x="450" y="380.6" font-size="10.3" text-anchor="end" font-weight="normal" fill="#231815" >25.2</text>
<text x="450" y="353.5" font-size="10.3" text-anchor="end" font-weight="normal" fill="#231815" >25.4</text>
<text x="450" y="326.4" font-size="10.3" text-anchor="end" font-weight="normal" fill="#231815" >25.6</text>
<text x="450" y="299.3" font-size="10.3" text-anchor="end" font-weight="normal" fill="#231815" >25.8</text>
<text x="485.85" y="476.8" font-size="10.3" text-anchor="middle" font-weight="normal" fill="#231815"  letter-spacing="0.1">FA-</text>
<text x="541.05" y="476.8" font-size="10.3" text-anchor="middle" font-weight="normal" fill="#231815"  letter-spacing="0.1">FAMA-</text>
<text x="601.55" y="476.8" font-size="10.3" text-anchor="middle" font-weight="normal" fill="#231815"  letter-spacing="0.1">FAMACs-</text>
<text x="653.05" y="476.8" font-size="10.3" text-anchor="middle" font-weight="normal" fill="#231815"  letter-spacing="0.1">FACs-</text>
<text transform="translate(422.4 369.7) rotate(-90)" font-size="10.3" text-anchor="middle" fill="#231815">PCE (%)</text>
</svg></body></html>
